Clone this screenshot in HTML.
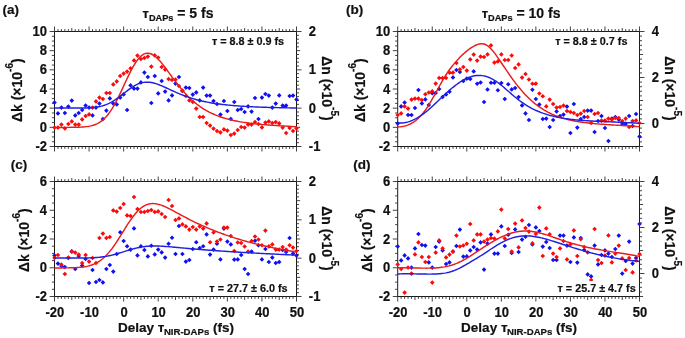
<!DOCTYPE html>
<html><head><meta charset="utf-8"><style>html,body{margin:0;padding:0;background:#fff;}svg{display:block;will-change:transform;}</style></head>
<body>
<svg width="685" height="338" viewBox="0 0 685 338" font-family='"Liberation Sans", sans-serif' font-weight="bold" fill="#111" stroke="#111" stroke-width="0.2">
<rect width="685" height="338" fill="#fff" stroke="none"/>
<path d="M54.5,31.0V147.0M296.5,31.0V147.0M54.0,31.5H297.0M54.0,146.5H297.0" stroke="#1a1a1a" stroke-width="1" fill="none"/>
<path d="M54.50,31.5v-5M54.50,146.5v5M57.96,31.5v-2.4M57.96,146.5v2.4M61.41,31.5v-2.4M61.41,146.5v2.4M64.87,31.5v-2.4M64.87,146.5v2.4M68.33,31.5v-2.4M68.33,146.5v2.4M71.79,31.5v-3.5M71.79,146.5v3.5M75.24,31.5v-2.4M75.24,146.5v2.4M78.70,31.5v-2.4M78.70,146.5v2.4M82.16,31.5v-2.4M82.16,146.5v2.4M85.61,31.5v-2.4M85.61,146.5v2.4M89.07,31.5v-5M89.07,146.5v5M92.53,31.5v-2.4M92.53,146.5v2.4M95.99,31.5v-2.4M95.99,146.5v2.4M99.44,31.5v-2.4M99.44,146.5v2.4M102.90,31.5v-2.4M102.90,146.5v2.4M106.36,31.5v-3.5M106.36,146.5v3.5M109.81,31.5v-2.4M109.81,146.5v2.4M113.27,31.5v-2.4M113.27,146.5v2.4M116.73,31.5v-2.4M116.73,146.5v2.4M120.19,31.5v-2.4M120.19,146.5v2.4M123.64,31.5v-5M123.64,146.5v5M127.10,31.5v-2.4M127.10,146.5v2.4M130.56,31.5v-2.4M130.56,146.5v2.4M134.01,31.5v-2.4M134.01,146.5v2.4M137.47,31.5v-2.4M137.47,146.5v2.4M140.93,31.5v-3.5M140.93,146.5v3.5M144.39,31.5v-2.4M144.39,146.5v2.4M147.84,31.5v-2.4M147.84,146.5v2.4M151.30,31.5v-2.4M151.30,146.5v2.4M154.76,31.5v-2.4M154.76,146.5v2.4M158.21,31.5v-5M158.21,146.5v5M161.67,31.5v-2.4M161.67,146.5v2.4M165.13,31.5v-2.4M165.13,146.5v2.4M168.59,31.5v-2.4M168.59,146.5v2.4M172.04,31.5v-2.4M172.04,146.5v2.4M175.50,31.5v-3.5M175.50,146.5v3.5M178.96,31.5v-2.4M178.96,146.5v2.4M182.41,31.5v-2.4M182.41,146.5v2.4M185.87,31.5v-2.4M185.87,146.5v2.4M189.33,31.5v-2.4M189.33,146.5v2.4M192.79,31.5v-5M192.79,146.5v5M196.24,31.5v-2.4M196.24,146.5v2.4M199.70,31.5v-2.4M199.70,146.5v2.4M203.16,31.5v-2.4M203.16,146.5v2.4M206.61,31.5v-2.4M206.61,146.5v2.4M210.07,31.5v-3.5M210.07,146.5v3.5M213.53,31.5v-2.4M213.53,146.5v2.4M216.99,31.5v-2.4M216.99,146.5v2.4M220.44,31.5v-2.4M220.44,146.5v2.4M223.90,31.5v-2.4M223.90,146.5v2.4M227.36,31.5v-5M227.36,146.5v5M230.81,31.5v-2.4M230.81,146.5v2.4M234.27,31.5v-2.4M234.27,146.5v2.4M237.73,31.5v-2.4M237.73,146.5v2.4M241.19,31.5v-2.4M241.19,146.5v2.4M244.64,31.5v-3.5M244.64,146.5v3.5M248.10,31.5v-2.4M248.10,146.5v2.4M251.56,31.5v-2.4M251.56,146.5v2.4M255.01,31.5v-2.4M255.01,146.5v2.4M258.47,31.5v-2.4M258.47,146.5v2.4M261.93,31.5v-5M261.93,146.5v5M265.39,31.5v-2.4M265.39,146.5v2.4M268.84,31.5v-2.4M268.84,146.5v2.4M272.30,31.5v-2.4M272.30,146.5v2.4M275.76,31.5v-2.4M275.76,146.5v2.4M279.21,31.5v-3.5M279.21,146.5v3.5M282.67,31.5v-2.4M282.67,146.5v2.4M286.13,31.5v-2.4M286.13,146.5v2.4M289.59,31.5v-2.4M289.59,146.5v2.4M293.04,31.5v-2.4M293.04,146.5v2.4M296.50,31.5v-5M296.50,146.5v5M54.5,146.50h-4.9M54.5,141.71h-2.6M54.5,136.92h-2.6M54.5,132.12h-2.6M54.5,127.33h-4.9M54.5,122.54h-2.6M54.5,117.75h-2.6M54.5,112.96h-2.6M54.5,108.17h-4.9M54.5,103.38h-2.6M54.5,98.58h-2.6M54.5,93.79h-2.6M54.5,89.00h-4.9M54.5,84.21h-2.6M54.5,79.42h-2.6M54.5,74.62h-2.6M54.5,69.83h-4.9M54.5,65.04h-2.6M54.5,60.25h-2.6M54.5,55.46h-2.6M54.5,50.67h-4.9M54.5,45.88h-2.6M54.5,41.08h-2.6M54.5,36.29h-2.6M54.5,31.50h-4.9M296.5,146.50h5.0M296.5,142.67h2.5M296.5,138.83h2.5M296.5,135.00h2.5M296.5,131.17h2.5M296.5,127.33h3.6M296.5,123.50h2.5M296.5,119.67h2.5M296.5,115.83h2.5M296.5,112.00h2.5M296.5,108.17h5.0M296.5,104.33h2.5M296.5,100.50h2.5M296.5,96.67h2.5M296.5,92.83h2.5M296.5,89.00h3.6M296.5,85.17h2.5M296.5,81.33h2.5M296.5,77.50h2.5M296.5,73.67h2.5M296.5,69.83h5.0M296.5,66.00h2.5M296.5,62.17h2.5M296.5,58.33h2.5M296.5,54.50h2.5M296.5,50.67h3.6M296.5,46.83h2.5M296.5,43.00h2.5M296.5,39.17h2.5M296.5,35.33h2.5M296.5,31.50h5.0" stroke="#3a3a3a" stroke-width="0.95" fill="none"/>
<path d="M54.50,100.30L56.80,102.60L54.50,104.90L52.20,102.60ZM57.96,111.10L60.26,113.40L57.96,115.70L55.66,113.40ZM61.41,105.30L63.71,107.60L61.41,109.90L59.11,107.60ZM64.87,110.70L67.17,113.00L64.87,115.30L62.57,113.00ZM68.33,104.30L70.63,106.60L68.33,108.90L66.03,106.60ZM71.79,98.30L74.09,100.60L71.79,102.90L69.49,100.60ZM75.24,113.10L77.54,115.40L75.24,117.70L72.94,115.40ZM78.70,110.70L81.00,113.00L78.70,115.30L76.40,113.00ZM82.16,107.70L84.46,110.00L82.16,112.30L79.86,110.00ZM85.61,103.30L87.91,105.60L85.61,107.90L83.31,105.60ZM89.07,105.30L91.37,107.60L89.07,109.90L86.77,107.60ZM92.53,113.10L94.83,115.40L92.53,117.70L90.23,115.40ZM95.99,105.30L98.29,107.60L95.99,109.90L93.69,107.60ZM99.44,101.30L101.74,103.60L99.44,105.90L97.14,103.60ZM102.90,116.70L105.20,119.00L102.90,121.30L100.60,119.00ZM106.36,108.30L108.66,110.60L106.36,112.90L104.06,110.60ZM109.81,96.10L112.11,98.40L109.81,100.70L107.51,98.40ZM113.27,101.30L115.57,103.60L113.27,105.90L110.97,103.60ZM116.73,102.10L119.03,104.40L116.73,106.70L114.43,104.40ZM120.19,95.30L122.49,97.60L120.19,99.90L117.89,97.60ZM123.64,92.10L125.94,94.40L123.64,96.70L121.34,94.40ZM127.10,107.70L129.40,110.00L127.10,112.30L124.80,110.00ZM130.56,83.10L132.86,85.40L130.56,87.70L128.26,85.40ZM134.01,86.30L136.31,88.60L134.01,90.90L131.71,88.60ZM137.47,86.30L139.77,88.60L137.47,90.90L135.17,88.60ZM140.93,80.10L143.23,82.40L140.93,84.70L138.63,82.40ZM144.39,70.30L146.69,72.60L144.39,74.90L142.09,72.60ZM147.84,74.70L150.14,77.00L147.84,79.30L145.54,77.00ZM151.30,100.70L153.60,103.00L151.30,105.30L149.00,103.00ZM154.76,73.70L157.06,76.00L154.76,78.30L152.46,76.00ZM158.21,91.10L160.51,93.40L158.21,95.70L155.91,93.40ZM161.67,78.70L163.97,81.00L161.67,83.30L159.37,81.00ZM165.13,89.30L167.43,91.60L165.13,93.90L162.83,91.60ZM168.59,98.10L170.89,100.40L168.59,102.70L166.29,100.40ZM172.04,93.10L174.34,95.40L172.04,97.70L169.74,95.40ZM175.50,81.30L177.80,83.60L175.50,85.90L173.20,83.60ZM178.96,74.70L181.26,77.00L178.96,79.30L176.66,77.00ZM182.41,88.70L184.71,91.00L182.41,93.30L180.11,91.00ZM185.87,85.30L188.17,87.60L185.87,89.90L183.57,87.60ZM189.33,85.70L191.63,88.00L189.33,90.30L187.03,88.00ZM192.79,92.30L195.09,94.60L192.79,96.90L190.49,94.60ZM196.24,90.10L198.54,92.40L196.24,94.70L193.94,92.40ZM199.70,98.10L202.00,100.40L199.70,102.70L197.40,100.40ZM203.16,85.30L205.46,87.60L203.16,89.90L200.86,87.60ZM206.61,93.30L208.91,95.60L206.61,97.90L204.31,95.60ZM210.07,93.30L212.37,95.60L210.07,97.90L207.77,95.60ZM213.53,98.70L215.83,101.00L213.53,103.30L211.23,101.00ZM216.99,101.70L219.29,104.00L216.99,106.30L214.69,104.00ZM220.44,112.30L222.74,114.60L220.44,116.90L218.14,114.60ZM223.90,98.70L226.20,101.00L223.90,103.30L221.60,101.00ZM227.36,108.70L229.66,111.00L227.36,113.30L225.06,111.00ZM230.81,116.70L233.11,119.00L230.81,121.30L228.51,119.00ZM234.27,99.70L236.57,102.00L234.27,104.30L231.97,102.00ZM237.73,107.70L240.03,110.00L237.73,112.30L235.43,110.00ZM241.19,106.70L243.49,109.00L241.19,111.30L238.89,109.00ZM244.64,109.70L246.94,112.00L244.64,114.30L242.34,112.00ZM248.10,104.10L250.40,106.40L248.10,108.70L245.80,106.40ZM251.56,109.30L253.86,111.60L251.56,113.90L249.26,111.60ZM255.01,95.70L257.31,98.00L255.01,100.30L252.71,98.00ZM258.47,116.70L260.77,119.00L258.47,121.30L256.17,119.00ZM261.93,95.30L264.23,97.60L261.93,99.90L259.63,97.60ZM265.39,91.70L267.69,94.00L265.39,96.30L263.09,94.00ZM268.84,93.30L271.14,95.60L268.84,97.90L266.54,95.60ZM272.30,105.30L274.60,107.60L272.30,109.90L270.00,107.60ZM275.76,101.30L278.06,103.60L275.76,105.90L273.46,103.60ZM279.21,93.10L281.51,95.40L279.21,97.70L276.91,95.40ZM282.67,103.30L284.97,105.60L282.67,107.90L280.37,105.60ZM286.13,103.30L288.43,105.60L286.13,107.90L283.83,105.60ZM289.59,93.70L291.89,96.00L289.59,98.30L287.29,96.00ZM293.04,93.30L295.34,95.60L293.04,97.90L290.74,95.60ZM296.50,97.30L298.80,99.60L296.50,101.90L294.20,99.60Z" fill="#1010f5" stroke="none"/>
<path d="M54.50,125.30L56.80,127.60L54.50,129.90L52.20,127.60ZM57.96,125.30L60.26,127.60L57.96,129.90L55.66,127.60ZM61.41,122.30L63.71,124.60L61.41,126.90L59.11,124.60ZM64.87,126.10L67.17,128.40L64.87,130.70L62.57,128.40ZM68.33,121.70L70.63,124.00L68.33,126.30L66.03,124.00ZM71.79,119.10L74.09,121.40L71.79,123.70L69.49,121.40ZM75.24,122.30L77.54,124.60L75.24,126.90L72.94,124.60ZM78.70,122.30L81.00,124.60L78.70,126.90L76.40,124.60ZM82.16,117.10L84.46,119.40L82.16,121.70L79.86,119.40ZM85.61,113.70L87.91,116.00L85.61,118.30L83.31,116.00ZM89.07,112.10L91.37,114.40L89.07,116.70L86.77,114.40ZM92.53,105.30L94.83,107.60L92.53,109.90L90.23,107.60ZM95.99,99.10L98.29,101.40L95.99,103.70L93.69,101.40ZM99.44,95.30L101.74,97.60L99.44,99.90L97.14,97.60ZM102.90,96.70L105.20,99.00L102.90,101.30L100.60,99.00ZM106.36,90.70L108.66,93.00L106.36,95.30L104.06,93.00ZM109.81,90.70L112.11,93.00L109.81,95.30L107.51,93.00ZM113.27,82.10L115.57,84.40L113.27,86.70L110.97,84.40ZM116.73,79.10L119.03,81.40L116.73,83.70L114.43,81.40ZM120.19,73.70L122.49,76.00L120.19,78.30L117.89,76.00ZM123.64,71.30L125.94,73.60L123.64,75.90L121.34,73.60ZM127.10,69.30L129.40,71.60L127.10,73.90L124.80,71.60ZM130.56,66.10L132.86,68.40L130.56,70.70L128.26,68.40ZM134.01,58.10L136.31,60.40L134.01,62.70L131.71,60.40ZM137.47,53.30L139.77,55.60L137.47,57.90L135.17,55.60ZM140.93,56.70L143.23,59.00L140.93,61.30L138.63,59.00ZM144.39,55.70L146.69,58.00L144.39,60.30L142.09,58.00ZM147.84,54.30L150.14,56.60L147.84,58.90L145.54,56.60ZM151.30,64.30L153.60,66.60L151.30,68.90L149.00,66.60ZM154.76,53.10L157.06,55.40L154.76,57.70L152.46,55.40ZM158.21,55.30L160.51,57.60L158.21,59.90L155.91,57.60ZM161.67,64.70L163.97,67.00L161.67,69.30L159.37,67.00ZM165.13,67.30L167.43,69.60L165.13,71.90L162.83,69.60ZM168.59,76.70L170.89,79.00L168.59,81.30L166.29,79.00ZM172.04,77.70L174.34,80.00L172.04,82.30L169.74,80.00ZM175.50,77.30L177.80,79.60L175.50,81.90L173.20,79.60ZM178.96,83.70L181.26,86.00L178.96,88.30L176.66,86.00ZM182.41,88.30L184.71,90.60L182.41,92.90L180.11,90.60ZM185.87,93.70L188.17,96.00L185.87,98.30L183.57,96.00ZM189.33,98.10L191.63,100.40L189.33,102.70L187.03,100.40ZM192.79,99.70L195.09,102.00L192.79,104.30L190.49,102.00ZM196.24,106.30L198.54,108.60L196.24,110.90L193.94,108.60ZM199.70,114.70L202.00,117.00L199.70,119.30L197.40,117.00ZM203.16,114.70L205.46,117.00L203.16,119.30L200.86,117.00ZM206.61,120.70L208.91,123.00L206.61,125.30L204.31,123.00ZM210.07,123.30L212.37,125.60L210.07,127.90L207.77,125.60ZM213.53,126.30L215.83,128.60L213.53,130.90L211.23,128.60ZM216.99,128.70L219.29,131.00L216.99,133.30L214.69,131.00ZM220.44,130.10L222.74,132.40L220.44,134.70L218.14,132.40ZM223.90,127.10L226.20,129.40L223.90,131.70L221.60,129.40ZM227.36,128.30L229.66,130.60L227.36,132.90L225.06,130.60ZM230.81,132.70L233.11,135.00L230.81,137.30L228.51,135.00ZM234.27,131.30L236.57,133.60L234.27,135.90L231.97,133.60ZM237.73,127.70L240.03,130.00L237.73,132.30L235.43,130.00ZM241.19,124.70L243.49,127.00L241.19,129.30L238.89,127.00ZM244.64,125.30L246.94,127.60L244.64,129.90L242.34,127.60ZM248.10,122.30L250.40,124.60L248.10,126.90L245.80,124.60ZM251.56,122.30L253.86,124.60L251.56,126.90L249.26,124.60ZM255.01,119.70L257.31,122.00L255.01,124.30L252.71,122.00ZM258.47,121.70L260.77,124.00L258.47,126.30L256.17,124.00ZM261.93,125.10L264.23,127.40L261.93,129.70L259.63,127.40ZM265.39,120.30L267.69,122.60L265.39,124.90L263.09,122.60ZM268.84,119.10L271.14,121.40L268.84,123.70L266.54,121.40ZM272.30,120.70L274.60,123.00L272.30,125.30L270.00,123.00ZM275.76,119.70L278.06,122.00L275.76,124.30L273.46,122.00ZM279.21,121.10L281.51,123.40L279.21,125.70L276.91,123.40ZM282.67,125.30L284.97,127.60L282.67,129.90L280.37,127.60ZM286.13,130.70L288.43,133.00L286.13,135.30L283.83,133.00ZM289.59,125.70L291.89,128.00L289.59,130.30L287.29,128.00ZM293.04,128.70L295.34,131.00L293.04,133.30L290.74,131.00ZM296.50,126.10L298.80,128.40L296.50,130.70L294.20,128.40Z" fill="#ff0a0a" stroke="none"/>
<polyline points="54.50,127.56 56.01,127.54 57.52,127.51 59.04,127.49 60.55,127.47 62.06,127.45 63.58,127.43 65.09,127.41 66.60,127.39 68.11,127.37 69.62,127.35 71.14,127.33 72.65,127.31 74.16,127.28 75.67,127.25 77.19,127.21 78.70,127.16 80.21,127.10 81.72,127.01 83.24,126.91 84.75,126.78 86.26,126.61 87.78,126.41 89.29,126.16 90.80,125.84 92.31,125.47 93.82,125.01 95.34,124.46 96.85,123.81 98.36,123.04 99.88,122.14 101.39,121.09 102.90,119.89 104.41,118.51 105.92,116.96 107.44,115.22 108.95,113.28 110.46,111.16 111.97,108.85 113.49,106.35 115.00,103.68 116.51,100.86 118.03,97.89 119.54,94.81 121.05,91.63 122.56,88.39 124.08,85.11 125.59,81.82 127.10,78.58 128.61,75.40 130.12,72.32 131.64,69.39 133.15,66.63 134.66,64.07 136.18,61.75 137.69,59.67 139.20,57.86 140.71,56.34 142.22,55.11 143.74,54.19 145.25,53.57 146.76,53.24 148.27,53.21 149.79,53.46 151.30,53.98 152.81,54.75 154.32,55.74 155.84,56.95 157.35,58.34 158.86,59.89 160.38,61.58 161.89,63.38 163.40,65.28 164.91,67.26 166.43,69.28 167.94,71.34 169.45,73.42 170.96,75.50 172.47,77.57 173.99,79.61 175.50,81.63 177.01,83.60 178.52,85.53 180.04,87.41 181.55,89.23 183.06,90.99 184.57,92.69 186.09,94.32 187.60,95.90 189.11,97.40 190.62,98.85 192.14,100.24 193.65,101.56 195.16,102.82 196.67,104.03 198.19,105.18 199.70,106.28 201.21,107.32 202.72,108.32 204.24,109.26 205.75,110.16 207.26,111.01 208.78,111.83 210.29,112.60 211.80,113.33 213.31,114.02 214.82,114.68 216.34,115.30 217.85,115.90 219.36,116.46 220.88,116.99 222.39,117.50 223.90,117.98 225.41,118.43 226.92,118.86 228.44,119.27 229.95,119.66 231.46,120.02 232.97,120.37 234.49,120.70 236.00,121.01 237.51,121.31 239.03,121.59 240.54,121.86 242.05,122.11 243.56,122.35 245.07,122.58 246.59,122.80 248.10,123.00 249.61,123.20 251.12,123.38 252.64,123.56 254.15,123.73 255.66,123.89 257.17,124.05 258.69,124.19 260.20,124.33 261.71,124.47 263.23,124.60 264.74,124.72 266.25,124.84 267.76,124.96 269.27,125.07 270.79,125.18 272.30,125.29 273.81,125.39 275.32,125.49 276.84,125.59 278.35,125.69 279.86,125.78 281.38,125.87 282.89,125.97 284.40,126.06 285.91,126.15 287.42,126.24 288.94,126.33 290.45,126.42 291.96,126.51 293.48,126.60 294.99,126.69 296.50,126.79" fill="none" stroke="#e81c1c" stroke-width="1.45" stroke-linejoin="round"/>
<polyline points="54.50,108.02 56.01,108.03 57.52,108.04 59.04,108.04 60.55,108.05 62.06,108.06 63.58,108.07 65.09,108.07 66.60,108.08 68.11,108.08 69.62,108.09 71.14,108.09 72.65,108.09 74.16,108.09 75.67,108.09 77.19,108.09 78.70,108.08 80.21,108.07 81.72,108.05 83.24,108.02 84.75,107.98 86.26,107.94 87.78,107.88 89.29,107.80 90.80,107.70 92.31,107.58 93.82,107.43 95.34,107.25 96.85,107.03 98.36,106.77 99.88,106.46 101.39,106.11 102.90,105.69 104.41,105.21 105.92,104.67 107.44,104.06 108.95,103.38 110.46,102.62 111.97,101.80 113.49,100.90 115.00,99.94 116.51,98.92 118.03,97.85 119.54,96.73 121.05,95.58 122.56,94.40 124.08,93.21 125.59,92.02 127.10,90.84 128.61,89.70 130.12,88.59 131.64,87.55 133.15,86.57 134.66,85.67 136.18,84.86 137.69,84.15 139.20,83.54 140.71,83.04 142.22,82.64 143.74,82.36 145.25,82.19 146.76,82.13 148.27,82.16 149.79,82.29 151.30,82.52 152.81,82.82 154.32,83.21 155.84,83.65 157.35,84.16 158.86,84.72 160.38,85.31 161.89,85.94 163.40,86.60 164.91,87.28 166.43,87.97 167.94,88.67 169.45,89.37 170.96,90.08 172.47,90.77 173.99,91.46 175.50,92.13 177.01,92.79 178.52,93.44 180.04,94.07 181.55,94.68 183.06,95.27 184.57,95.84 186.09,96.39 187.60,96.92 189.11,97.43 190.62,97.92 192.14,98.39 193.65,98.84 195.16,99.28 196.67,99.69 198.19,100.09 199.70,100.47 201.21,100.83 202.72,101.17 204.24,101.50 205.75,101.82 207.26,102.12 208.78,102.40 210.29,102.68 211.80,102.94 213.31,103.19 214.82,103.42 216.34,103.65 217.85,103.86 219.36,104.07 220.88,104.26 222.39,104.45 223.90,104.63 225.41,104.80 226.92,104.96 228.44,105.11 229.95,105.26 231.46,105.40 232.97,105.53 234.49,105.66 236.00,105.78 237.51,105.89 239.03,106.00 240.54,106.11 242.05,106.21 243.56,106.30 245.07,106.39 246.59,106.48 248.10,106.56 249.61,106.64 251.12,106.72 252.64,106.79 254.15,106.86 255.66,106.93 257.17,106.99 258.69,107.05 260.20,107.11 261.71,107.16 263.23,107.22 264.74,107.27 266.25,107.32 267.76,107.37 269.27,107.41 270.79,107.46 272.30,107.50 273.81,107.54 275.32,107.58 276.84,107.62 278.35,107.65 279.86,107.69 281.38,107.72 282.89,107.76 284.40,107.79 285.91,107.82 287.42,107.85 288.94,107.88 290.45,107.91 291.96,107.94 293.48,107.97 294.99,108.00 296.50,108.02" fill="none" stroke="#2020e0" stroke-width="1.45" stroke-linejoin="round"/>
<text transform="translate(47.0,151.0) scale(1,1.1)" font-size="13" text-anchor="end" >-2</text>
<text transform="translate(47.0,131.83333333333334) scale(1,1.1)" font-size="13" text-anchor="end" >0</text>
<text transform="translate(47.0,112.66666666666667) scale(1,1.1)" font-size="13" text-anchor="end" >2</text>
<text transform="translate(47.0,93.5) scale(1,1.1)" font-size="13" text-anchor="end" >4</text>
<text transform="translate(47.0,74.33333333333334) scale(1,1.1)" font-size="13" text-anchor="end" >6</text>
<text transform="translate(47.0,55.16666666666666) scale(1,1.1)" font-size="13" text-anchor="end" >8</text>
<text transform="translate(47.0,36.0) scale(1,1.1)" font-size="13" text-anchor="end" >10</text>
<text transform="translate(308.8,151.0) scale(1,1.1)" font-size="13" text-anchor="start" >-1</text>
<text transform="translate(308.8,112.66666666666667) scale(1,1.1)" font-size="13" text-anchor="start" >0</text>
<text transform="translate(308.8,74.33333333333334) scale(1,1.1)" font-size="13" text-anchor="start" >1</text>
<text transform="translate(308.8,36.0) scale(1,1.1)" font-size="13" text-anchor="start" >2</text>
<text x="2.4" y="14.0" font-size="13.5" text-anchor="start" >(a)</text>
<text x="178.0" y="17.7" font-size="13" text-anchor="middle">&#1090;<tspan font-size="9.2" dy="3.2">DAPs</tspan><tspan dy="-3.2" font-size="14"> = 5 fs</tspan></text>
<text transform="translate(21.9,90.2) rotate(-90)" font-size="14" text-anchor="middle">&#916;k (&#215;10<tspan font-size="10" dy="-9.2">-6</tspan><tspan dy="9.2">)</tspan></text>
<text transform="translate(322.0,88.4) rotate(90)" font-size="14" text-anchor="middle">&#916;n (&#215;10<tspan font-size="10" dy="-9.2">-5</tspan><tspan dy="9.2">)</tspan></text>
<text x="284.1" y="44.5" font-size="10.8" text-anchor="end">&#1090; = 8.8 &#177; 0.9 fs</text>
<path d="M397.7,31.0V147.0M639.5,31.0V147.0M397.2,31.5H640.0M397.2,146.5H640.0" stroke="#1a1a1a" stroke-width="1" fill="none"/>
<path d="M397.70,31.5v-5M397.70,146.5v5M401.15,31.5v-2.4M401.15,146.5v2.4M404.61,31.5v-2.4M404.61,146.5v2.4M408.06,31.5v-2.4M408.06,146.5v2.4M411.52,31.5v-2.4M411.52,146.5v2.4M414.97,31.5v-3.5M414.97,146.5v3.5M418.43,31.5v-2.4M418.43,146.5v2.4M421.88,31.5v-2.4M421.88,146.5v2.4M425.33,31.5v-2.4M425.33,146.5v2.4M428.79,31.5v-2.4M428.79,146.5v2.4M432.24,31.5v-5M432.24,146.5v5M435.70,31.5v-2.4M435.70,146.5v2.4M439.15,31.5v-2.4M439.15,146.5v2.4M442.61,31.5v-2.4M442.61,146.5v2.4M446.06,31.5v-2.4M446.06,146.5v2.4M449.51,31.5v-3.5M449.51,146.5v3.5M452.97,31.5v-2.4M452.97,146.5v2.4M456.42,31.5v-2.4M456.42,146.5v2.4M459.88,31.5v-2.4M459.88,146.5v2.4M463.33,31.5v-2.4M463.33,146.5v2.4M466.79,31.5v-5M466.79,146.5v5M470.24,31.5v-2.4M470.24,146.5v2.4M473.69,31.5v-2.4M473.69,146.5v2.4M477.15,31.5v-2.4M477.15,146.5v2.4M480.60,31.5v-2.4M480.60,146.5v2.4M484.06,31.5v-3.5M484.06,146.5v3.5M487.51,31.5v-2.4M487.51,146.5v2.4M490.97,31.5v-2.4M490.97,146.5v2.4M494.42,31.5v-2.4M494.42,146.5v2.4M497.87,31.5v-2.4M497.87,146.5v2.4M501.33,31.5v-5M501.33,146.5v5M504.78,31.5v-2.4M504.78,146.5v2.4M508.24,31.5v-2.4M508.24,146.5v2.4M511.69,31.5v-2.4M511.69,146.5v2.4M515.15,31.5v-2.4M515.15,146.5v2.4M518.60,31.5v-3.5M518.60,146.5v3.5M522.05,31.5v-2.4M522.05,146.5v2.4M525.51,31.5v-2.4M525.51,146.5v2.4M528.96,31.5v-2.4M528.96,146.5v2.4M532.42,31.5v-2.4M532.42,146.5v2.4M535.87,31.5v-5M535.87,146.5v5M539.33,31.5v-2.4M539.33,146.5v2.4M542.78,31.5v-2.4M542.78,146.5v2.4M546.23,31.5v-2.4M546.23,146.5v2.4M549.69,31.5v-2.4M549.69,146.5v2.4M553.14,31.5v-3.5M553.14,146.5v3.5M556.60,31.5v-2.4M556.60,146.5v2.4M560.05,31.5v-2.4M560.05,146.5v2.4M563.51,31.5v-2.4M563.51,146.5v2.4M566.96,31.5v-2.4M566.96,146.5v2.4M570.41,31.5v-5M570.41,146.5v5M573.87,31.5v-2.4M573.87,146.5v2.4M577.32,31.5v-2.4M577.32,146.5v2.4M580.78,31.5v-2.4M580.78,146.5v2.4M584.23,31.5v-2.4M584.23,146.5v2.4M587.69,31.5v-3.5M587.69,146.5v3.5M591.14,31.5v-2.4M591.14,146.5v2.4M594.59,31.5v-2.4M594.59,146.5v2.4M598.05,31.5v-2.4M598.05,146.5v2.4M601.50,31.5v-2.4M601.50,146.5v2.4M604.96,31.5v-5M604.96,146.5v5M608.41,31.5v-2.4M608.41,146.5v2.4M611.87,31.5v-2.4M611.87,146.5v2.4M615.32,31.5v-2.4M615.32,146.5v2.4M618.77,31.5v-2.4M618.77,146.5v2.4M622.23,31.5v-3.5M622.23,146.5v3.5M625.68,31.5v-2.4M625.68,146.5v2.4M629.14,31.5v-2.4M629.14,146.5v2.4M632.59,31.5v-2.4M632.59,146.5v2.4M636.05,31.5v-2.4M636.05,146.5v2.4M639.50,31.5v-5M639.50,146.5v5M397.7,146.50h-4.9M397.7,141.71h-2.6M397.7,136.92h-2.6M397.7,132.12h-2.6M397.7,127.33h-4.9M397.7,122.54h-2.6M397.7,117.75h-2.6M397.7,112.96h-2.6M397.7,108.17h-4.9M397.7,103.38h-2.6M397.7,98.58h-2.6M397.7,93.79h-2.6M397.7,89.00h-4.9M397.7,84.21h-2.6M397.7,79.42h-2.6M397.7,74.62h-2.6M397.7,69.83h-4.9M397.7,65.04h-2.6M397.7,60.25h-2.6M397.7,55.46h-2.6M397.7,50.67h-4.9M397.7,45.88h-2.6M397.7,41.08h-2.6M397.7,36.29h-2.6M397.7,31.50h-4.9M639.5,146.50h3.6M639.5,141.90h2.5M639.5,137.30h2.5M639.5,132.70h2.5M639.5,128.10h2.5M639.5,123.50h5.0M639.5,118.90h2.5M639.5,114.30h2.5M639.5,109.70h2.5M639.5,105.10h2.5M639.5,100.50h3.6M639.5,95.90h2.5M639.5,91.30h2.5M639.5,86.70h2.5M639.5,82.10h2.5M639.5,77.50h5.0M639.5,72.90h2.5M639.5,68.30h2.5M639.5,63.70h2.5M639.5,59.10h2.5M639.5,54.50h3.6M639.5,49.90h2.5M639.5,45.30h2.5M639.5,40.70h2.5M639.5,36.10h2.5M639.5,31.50h5.0" stroke="#3a3a3a" stroke-width="0.95" fill="none"/>
<path d="M397.70,121.10L400.00,123.40L397.70,125.70L395.40,123.40ZM401.15,104.10L403.45,106.40L401.15,108.70L398.85,106.40ZM404.61,100.30L406.91,102.60L404.61,104.90L402.31,102.60ZM408.06,112.70L410.36,115.00L408.06,117.30L405.76,115.00ZM411.52,112.70L413.82,115.00L411.52,117.30L409.22,115.00ZM414.97,105.70L417.27,108.00L414.97,110.30L412.67,108.00ZM418.43,87.70L420.73,90.00L418.43,92.30L416.13,90.00ZM421.88,101.10L424.18,103.40L421.88,105.70L419.58,103.40ZM425.33,97.10L427.63,99.40L425.33,101.70L423.03,99.40ZM428.79,102.70L431.09,105.00L428.79,107.30L426.49,105.00ZM432.24,91.00L434.54,93.30L432.24,95.60L429.94,93.30ZM435.70,90.70L438.00,93.00L435.70,95.30L433.40,93.00ZM439.15,86.70L441.45,89.00L439.15,91.30L436.85,89.00ZM442.61,94.70L444.91,97.00L442.61,99.30L440.31,97.00ZM446.06,92.20L448.36,94.50L446.06,96.80L443.76,94.50ZM449.51,89.50L451.81,91.80L449.51,94.10L447.21,91.80ZM452.97,75.10L455.27,77.40L452.97,79.70L450.67,77.40ZM456.42,67.70L458.72,70.00L456.42,72.30L454.12,70.00ZM459.88,69.70L462.18,72.00L459.88,74.30L457.58,72.00ZM463.33,78.70L465.63,81.00L463.33,83.30L461.03,81.00ZM466.79,76.30L469.09,78.60L466.79,80.90L464.49,78.60ZM470.24,76.70L472.54,79.00L470.24,81.30L467.94,79.00ZM473.69,69.10L475.99,71.40L473.69,73.70L471.39,71.40ZM477.15,81.50L479.45,83.80L477.15,86.10L474.85,83.80ZM480.60,80.20L482.90,82.50L480.60,84.80L478.30,82.50ZM484.06,99.70L486.36,102.00L484.06,104.30L481.76,102.00ZM487.51,87.20L489.81,89.50L487.51,91.80L485.21,89.50ZM490.97,80.50L493.27,82.80L490.97,85.10L488.67,82.80ZM494.42,80.50L496.72,82.80L494.42,85.10L492.12,82.80ZM497.87,88.00L500.17,90.30L497.87,92.60L495.57,90.30ZM501.33,80.70L503.63,83.00L501.33,85.30L499.03,83.00ZM504.78,96.70L507.08,99.00L504.78,101.30L502.48,99.00ZM508.24,82.00L510.54,84.30L508.24,86.60L505.94,84.30ZM511.69,87.10L513.99,89.40L511.69,91.70L509.39,89.40ZM515.15,85.70L517.45,88.00L515.15,90.30L512.85,88.00ZM518.60,94.70L520.90,97.00L518.60,99.30L516.30,97.00ZM522.05,103.10L524.35,105.40L522.05,107.70L519.75,105.40ZM525.51,111.10L527.81,113.40L525.51,115.70L523.21,113.40ZM528.96,117.70L531.26,120.00L528.96,122.30L526.66,120.00ZM532.42,87.50L534.72,89.80L532.42,92.10L530.12,89.80ZM535.87,96.70L538.17,99.00L535.87,101.30L533.57,99.00ZM539.33,102.30L541.63,104.60L539.33,106.90L537.03,104.60ZM542.78,116.70L545.08,119.00L542.78,121.30L540.48,119.00ZM546.23,116.30L548.53,118.60L546.23,120.90L543.93,118.60ZM549.69,124.70L551.99,127.00L549.69,129.30L547.39,127.00ZM553.14,117.70L555.44,120.00L553.14,122.30L550.84,120.00ZM556.60,109.10L558.90,111.40L556.60,113.70L554.30,111.40ZM560.05,113.70L562.35,116.00L560.05,118.30L557.75,116.00ZM563.51,112.30L565.81,114.60L563.51,116.90L561.21,114.60ZM566.96,104.30L569.26,106.60L566.96,108.90L564.66,106.60ZM570.41,130.70L572.71,133.00L570.41,135.30L568.11,133.00ZM573.87,101.70L576.17,104.00L573.87,106.30L571.57,104.00ZM577.32,125.30L579.62,127.60L577.32,129.90L575.02,127.60ZM580.78,116.70L583.08,119.00L580.78,121.30L578.48,119.00ZM584.23,114.70L586.53,117.00L584.23,119.30L581.93,117.00ZM587.69,108.30L589.99,110.60L587.69,112.90L585.39,110.60ZM591.14,108.30L593.44,110.60L591.14,112.90L588.84,110.60ZM594.59,129.70L596.89,132.00L594.59,134.30L592.29,132.00ZM598.05,118.70L600.35,121.00L598.05,123.30L595.75,121.00ZM601.50,113.70L603.80,116.00L601.50,118.30L599.20,116.00ZM604.96,125.70L607.26,128.00L604.96,130.30L602.66,128.00ZM608.41,138.70L610.71,141.00L608.41,143.30L606.11,141.00ZM611.87,116.30L614.17,118.60L611.87,120.90L609.57,118.60ZM615.32,114.70L617.62,117.00L615.32,119.30L613.02,117.00ZM618.77,117.30L621.07,119.60L618.77,121.90L616.47,119.60ZM622.23,121.70L624.53,124.00L622.23,126.30L619.93,124.00ZM625.68,121.70L627.98,124.00L625.68,126.30L623.38,124.00ZM629.14,113.70L631.44,116.00L629.14,118.30L626.84,116.00ZM632.59,123.70L634.89,126.00L632.59,128.30L630.29,126.00ZM636.05,111.70L638.35,114.00L636.05,116.30L633.75,114.00ZM639.50,134.30L641.80,136.60L639.50,138.90L637.20,136.60Z" fill="#1010f5" stroke="none"/>
<path d="M397.70,112.70L400.00,115.00L397.70,117.30L395.40,115.00ZM401.15,111.10L403.45,113.40L401.15,115.70L398.85,113.40ZM404.61,104.10L406.91,106.40L404.61,108.70L402.31,106.40ZM408.06,106.30L410.36,108.60L408.06,110.90L405.76,108.60ZM411.52,97.30L413.82,99.60L411.52,101.90L409.22,99.60ZM414.97,96.30L417.27,98.60L414.97,100.90L412.67,98.60ZM418.43,96.30L420.73,98.60L418.43,100.90L416.13,98.60ZM421.88,97.70L424.18,100.00L421.88,102.30L419.58,100.00ZM425.33,91.90L427.63,94.20L425.33,96.50L423.03,94.20ZM428.79,90.20L431.09,92.50L428.79,94.80L426.49,92.50ZM432.24,89.00L434.54,91.30L432.24,93.60L429.94,91.30ZM435.70,81.30L438.00,83.60L435.70,85.90L433.40,83.60ZM439.15,75.70L441.45,78.00L439.15,80.30L436.85,78.00ZM442.61,75.70L444.91,78.00L442.61,80.30L440.31,78.00ZM446.06,75.70L448.36,78.00L446.06,80.30L443.76,78.00ZM449.51,70.30L451.81,72.60L449.51,74.90L447.21,72.60ZM452.97,70.30L455.27,72.60L452.97,74.90L450.67,72.60ZM456.42,60.70L458.72,63.00L456.42,65.30L454.12,63.00ZM459.88,67.10L462.18,69.40L459.88,71.70L457.58,69.40ZM463.33,64.70L465.63,67.00L463.33,69.30L461.03,67.00ZM466.79,68.30L469.09,70.60L466.79,72.90L464.49,70.60ZM470.24,57.10L472.54,59.40L470.24,61.70L467.94,59.40ZM473.69,52.30L475.99,54.60L473.69,56.90L471.39,54.60ZM477.15,58.30L479.45,60.60L477.15,62.90L474.85,60.60ZM480.60,54.30L482.90,56.60L480.60,58.90L478.30,56.60ZM484.06,54.70L486.36,57.00L484.06,59.30L481.76,57.00ZM487.51,52.10L489.81,54.40L487.51,56.70L485.21,54.40ZM490.97,43.10L493.27,45.40L490.97,47.70L488.67,45.40ZM494.42,60.30L496.72,62.60L494.42,64.90L492.12,62.60ZM497.87,59.10L500.17,61.40L497.87,63.70L495.57,61.40ZM501.33,52.10L503.63,54.40L501.33,56.70L499.03,54.40ZM504.78,57.70L507.08,60.00L504.78,62.30L502.48,60.00ZM508.24,57.70L510.54,60.00L508.24,62.30L505.94,60.00ZM511.69,53.20L513.99,55.50L511.69,57.80L509.39,55.50ZM515.15,65.70L517.45,68.00L515.15,70.30L512.85,68.00ZM518.60,62.10L520.90,64.40L518.60,66.70L516.30,64.40ZM522.05,75.30L524.35,77.60L522.05,79.90L519.75,77.60ZM525.51,71.70L527.81,74.00L525.51,76.30L523.21,74.00ZM528.96,77.20L531.26,79.50L528.96,81.80L526.66,79.50ZM532.42,81.50L534.72,83.80L532.42,86.10L530.12,83.80ZM535.87,81.30L538.17,83.60L535.87,85.90L533.57,83.60ZM539.33,91.20L541.63,93.50L539.33,95.80L537.03,93.50ZM542.78,93.90L545.08,96.20L542.78,98.50L540.48,96.20ZM546.23,104.10L548.53,106.40L546.23,108.70L543.93,106.40ZM549.69,97.30L551.99,99.60L549.69,101.90L547.39,99.60ZM553.14,101.70L555.44,104.00L553.14,106.30L550.84,104.00ZM556.60,105.30L558.90,107.60L556.60,109.90L554.30,107.60ZM560.05,104.70L562.35,107.00L560.05,109.30L557.75,107.00ZM563.51,103.30L565.81,105.60L563.51,107.90L561.21,105.60ZM566.96,108.70L569.26,111.00L566.96,113.30L564.66,111.00ZM570.41,109.70L572.71,112.00L570.41,114.30L568.11,112.00ZM573.87,110.70L576.17,113.00L573.87,115.30L571.57,113.00ZM577.32,112.70L579.62,115.00L577.32,117.30L575.02,115.00ZM580.78,111.30L583.08,113.60L580.78,115.90L578.48,113.60ZM584.23,108.70L586.53,111.00L584.23,113.30L581.93,111.00ZM587.69,114.70L589.99,117.00L587.69,119.30L585.39,117.00ZM591.14,120.70L593.44,123.00L591.14,125.30L588.84,123.00ZM594.59,111.70L596.89,114.00L594.59,116.30L592.29,114.00ZM598.05,110.70L600.35,113.00L598.05,115.30L595.75,113.00ZM601.50,118.30L603.80,120.60L601.50,122.90L599.20,120.60ZM604.96,118.30L607.26,120.60L604.96,122.90L602.66,120.60ZM608.41,116.30L610.71,118.60L608.41,120.90L606.11,118.60ZM611.87,117.30L614.17,119.60L611.87,121.90L609.57,119.60ZM615.32,115.70L617.62,118.00L615.32,120.30L613.02,118.00ZM618.77,115.70L621.07,118.00L618.77,120.30L616.47,118.00ZM622.23,118.70L624.53,121.00L622.23,123.30L619.93,121.00ZM625.68,116.30L627.98,118.60L625.68,120.90L623.38,118.60ZM629.14,124.70L631.44,127.00L629.14,129.30L626.84,127.00ZM632.59,118.70L634.89,121.00L632.59,123.30L630.29,121.00ZM636.05,118.10L638.35,120.40L636.05,122.70L633.75,120.40ZM639.50,120.70L641.80,123.00L639.50,125.30L637.20,123.00Z" fill="#ff0a0a" stroke="none"/>
<polyline points="397.70,126.95 399.21,126.88 400.72,126.74 402.23,126.54 403.75,126.26 405.26,125.89 406.77,125.44 408.28,124.89 409.79,124.23 411.30,123.47 412.81,122.59 414.32,121.59 415.83,120.46 417.35,119.20 418.86,117.80 420.37,116.25 421.88,114.56 423.39,112.72 424.90,110.73 426.41,108.58 427.93,106.29 429.44,103.87 430.95,101.34 432.46,98.72 433.97,96.04 435.48,93.30 436.99,90.53 438.50,87.76 440.01,85.01 441.53,82.31 443.04,79.68 444.55,77.14 446.06,74.74 447.57,72.45 449.08,70.29 450.59,68.22 452.11,66.26 453.62,64.39 455.13,62.60 456.64,60.88 458.15,59.22 459.66,57.62 461.17,56.07 462.68,54.60 464.19,53.20 465.71,51.87 467.22,50.63 468.73,49.48 470.24,48.41 471.75,47.42 473.26,46.52 474.77,45.70 476.28,45.00 477.80,44.42 479.31,44.01 480.82,43.79 482.33,43.78 483.84,44.01 485.35,44.50 486.86,45.28 488.38,46.34 489.89,47.67 491.40,49.22 492.91,50.98 494.42,52.89 495.93,54.94 497.44,57.07 498.95,59.27 500.46,61.49 501.98,63.73 503.49,65.97 505.00,68.21 506.51,70.44 508.02,72.64 509.53,74.82 511.04,76.96 512.55,79.06 514.07,81.12 515.58,83.13 517.09,85.09 518.60,86.99 520.11,88.83 521.62,90.61 523.13,92.33 524.64,93.99 526.16,95.58 527.67,97.11 529.18,98.58 530.69,99.99 532.20,101.33 533.71,102.62 535.22,103.85 536.74,105.03 538.25,106.15 539.76,107.21 541.27,108.23 542.78,109.20 544.29,110.12 545.80,110.99 547.31,111.82 548.83,112.60 550.34,113.35 551.85,114.06 553.36,114.72 554.87,115.36 556.38,115.95 557.89,116.52 559.40,117.05 560.91,117.56 562.43,118.03 563.94,118.48 565.45,118.90 566.96,119.30 568.47,119.68 569.98,120.04 571.49,120.37 573.00,120.68 574.52,120.98 576.03,121.26 577.54,121.53 579.05,121.77 580.56,122.01 582.07,122.23 583.58,122.44 585.10,122.63 586.61,122.82 588.12,122.99 589.63,123.16 591.14,123.32 592.65,123.47 594.16,123.61 595.67,123.74 597.18,123.87 598.70,123.99 600.21,124.11 601.72,124.22 603.23,124.33 604.74,124.44 606.25,124.54 607.76,124.64 609.27,124.74 610.79,124.83 612.30,124.93 613.81,125.02 615.32,125.11 616.83,125.20 618.34,125.30 619.85,125.39 621.37,125.48 622.88,125.58 624.39,125.67 625.90,125.77 627.41,125.87 628.92,125.97 630.43,126.07 631.94,126.18 633.45,126.29 634.97,126.41 636.48,126.52 637.99,126.65 639.50,126.77" fill="none" stroke="#e81c1c" stroke-width="1.45" stroke-linejoin="round"/>
<polyline points="397.70,122.96 399.21,123.05 400.72,123.05 402.23,122.97 403.75,122.81 405.26,122.56 406.77,122.24 408.28,121.84 409.79,121.35 411.30,120.80 412.81,120.17 414.32,119.46 415.83,118.69 417.35,117.84 418.86,116.93 420.37,115.96 421.88,114.92 423.39,113.83 424.90,112.67 426.41,111.47 427.93,110.22 429.44,108.92 430.95,107.58 432.46,106.20 433.97,104.79 435.48,103.36 436.99,101.91 438.50,100.45 440.01,98.99 441.53,97.53 443.04,96.09 444.55,94.67 446.06,93.28 447.57,91.92 449.08,90.59 450.59,89.30 452.11,88.04 453.62,86.82 455.13,85.64 456.64,84.51 458.15,83.43 459.66,82.39 461.17,81.41 462.68,80.48 464.19,79.62 465.71,78.83 467.22,78.11 468.73,77.47 470.24,76.91 471.75,76.44 473.26,76.05 474.77,75.75 476.28,75.54 477.80,75.42 479.31,75.39 480.82,75.46 482.33,75.62 483.84,75.88 485.35,76.23 486.86,76.68 488.38,77.22 489.89,77.85 491.40,78.56 492.91,79.37 494.42,80.26 495.93,81.22 497.44,82.27 498.95,83.39 500.46,84.57 501.98,85.79 503.49,87.06 505.00,88.36 506.51,89.68 508.02,91.00 509.53,92.33 511.04,93.65 512.55,94.96 514.07,96.24 515.58,97.49 517.09,98.70 518.60,99.87 520.11,101.00 521.62,102.10 523.13,103.15 524.64,104.16 526.16,105.12 527.67,106.05 529.18,106.93 530.69,107.77 532.20,108.58 533.71,109.34 535.22,110.06 536.74,110.75 538.25,111.40 539.76,112.02 541.27,112.60 542.78,113.16 544.29,113.68 545.80,114.18 547.31,114.65 548.83,115.10 550.34,115.52 551.85,115.92 553.36,116.29 554.87,116.65 556.38,116.98 557.89,117.30 559.40,117.59 560.91,117.87 562.43,118.14 563.94,118.38 565.45,118.62 566.96,118.84 568.47,119.04 569.98,119.23 571.49,119.42 573.00,119.59 574.52,119.75 576.03,119.90 577.54,120.04 579.05,120.17 580.56,120.30 582.07,120.42 583.58,120.53 585.10,120.64 586.61,120.74 588.12,120.83 589.63,120.92 591.14,121.01 592.65,121.09 594.16,121.17 595.67,121.24 597.18,121.32 598.70,121.39 600.21,121.45 601.72,121.52 603.23,121.58 604.74,121.65 606.25,121.71 607.76,121.77 609.27,121.83 610.79,121.89 612.30,121.95 613.81,122.01 615.32,122.08 616.83,122.14 618.34,122.20 619.85,122.27 621.37,122.33 622.88,122.40 624.39,122.47 625.90,122.54 627.41,122.61 628.92,122.69 630.43,122.76 631.94,122.84 633.45,122.93 634.97,123.01 636.48,123.10 637.99,123.19 639.50,123.29" fill="none" stroke="#2020e0" stroke-width="1.45" stroke-linejoin="round"/>
<text transform="translate(390.2,151.0) scale(1,1.1)" font-size="13" text-anchor="end" >-2</text>
<text transform="translate(390.2,131.83333333333334) scale(1,1.1)" font-size="13" text-anchor="end" >0</text>
<text transform="translate(390.2,112.66666666666667) scale(1,1.1)" font-size="13" text-anchor="end" >2</text>
<text transform="translate(390.2,93.5) scale(1,1.1)" font-size="13" text-anchor="end" >4</text>
<text transform="translate(390.2,74.33333333333334) scale(1,1.1)" font-size="13" text-anchor="end" >6</text>
<text transform="translate(390.2,55.16666666666666) scale(1,1.1)" font-size="13" text-anchor="end" >8</text>
<text transform="translate(390.2,36.0) scale(1,1.1)" font-size="13" text-anchor="end" >10</text>
<text transform="translate(651.8,128.0) scale(1,1.1)" font-size="13" text-anchor="start" >0</text>
<text transform="translate(651.8,82.0) scale(1,1.1)" font-size="13" text-anchor="start" >2</text>
<text transform="translate(651.8,36.0) scale(1,1.1)" font-size="13" text-anchor="start" >4</text>
<text x="345.9" y="14.0" font-size="13.5" text-anchor="start" >(b)</text>
<text x="521.1" y="17.7" font-size="13" text-anchor="middle">&#1090;<tspan font-size="9.2" dy="3.2">DAPs</tspan><tspan dy="-3.2" font-size="14"> = 10 fs</tspan></text>
<text transform="translate(365.1,90.2) rotate(-90)" font-size="14" text-anchor="middle">&#916;k (&#215;10<tspan font-size="10" dy="-9.2">-6</tspan><tspan dy="9.2">)</tspan></text>
<text transform="translate(665.0,88.4) rotate(90)" font-size="14" text-anchor="middle">&#916;n (&#215;10<tspan font-size="10" dy="-9.2">-5</tspan><tspan dy="9.2">)</tspan></text>
<text x="627.4" y="44.8" font-size="10.8" text-anchor="end">&#1090; = 8.8 &#177; 0.7 fs</text>
<path d="M54.5,181.0V297.0M296.5,181.0V297.0M54.0,181.5H297.0M54.0,296.5H297.0" stroke="#1a1a1a" stroke-width="1" fill="none"/>
<path d="M54.50,181.5v-5M54.50,296.5v5M57.96,181.5v-2.4M57.96,296.5v2.4M61.41,181.5v-2.4M61.41,296.5v2.4M64.87,181.5v-2.4M64.87,296.5v2.4M68.33,181.5v-2.4M68.33,296.5v2.4M71.79,181.5v-3.5M71.79,296.5v3.5M75.24,181.5v-2.4M75.24,296.5v2.4M78.70,181.5v-2.4M78.70,296.5v2.4M82.16,181.5v-2.4M82.16,296.5v2.4M85.61,181.5v-2.4M85.61,296.5v2.4M89.07,181.5v-5M89.07,296.5v5M92.53,181.5v-2.4M92.53,296.5v2.4M95.99,181.5v-2.4M95.99,296.5v2.4M99.44,181.5v-2.4M99.44,296.5v2.4M102.90,181.5v-2.4M102.90,296.5v2.4M106.36,181.5v-3.5M106.36,296.5v3.5M109.81,181.5v-2.4M109.81,296.5v2.4M113.27,181.5v-2.4M113.27,296.5v2.4M116.73,181.5v-2.4M116.73,296.5v2.4M120.19,181.5v-2.4M120.19,296.5v2.4M123.64,181.5v-5M123.64,296.5v5M127.10,181.5v-2.4M127.10,296.5v2.4M130.56,181.5v-2.4M130.56,296.5v2.4M134.01,181.5v-2.4M134.01,296.5v2.4M137.47,181.5v-2.4M137.47,296.5v2.4M140.93,181.5v-3.5M140.93,296.5v3.5M144.39,181.5v-2.4M144.39,296.5v2.4M147.84,181.5v-2.4M147.84,296.5v2.4M151.30,181.5v-2.4M151.30,296.5v2.4M154.76,181.5v-2.4M154.76,296.5v2.4M158.21,181.5v-5M158.21,296.5v5M161.67,181.5v-2.4M161.67,296.5v2.4M165.13,181.5v-2.4M165.13,296.5v2.4M168.59,181.5v-2.4M168.59,296.5v2.4M172.04,181.5v-2.4M172.04,296.5v2.4M175.50,181.5v-3.5M175.50,296.5v3.5M178.96,181.5v-2.4M178.96,296.5v2.4M182.41,181.5v-2.4M182.41,296.5v2.4M185.87,181.5v-2.4M185.87,296.5v2.4M189.33,181.5v-2.4M189.33,296.5v2.4M192.79,181.5v-5M192.79,296.5v5M196.24,181.5v-2.4M196.24,296.5v2.4M199.70,181.5v-2.4M199.70,296.5v2.4M203.16,181.5v-2.4M203.16,296.5v2.4M206.61,181.5v-2.4M206.61,296.5v2.4M210.07,181.5v-3.5M210.07,296.5v3.5M213.53,181.5v-2.4M213.53,296.5v2.4M216.99,181.5v-2.4M216.99,296.5v2.4M220.44,181.5v-2.4M220.44,296.5v2.4M223.90,181.5v-2.4M223.90,296.5v2.4M227.36,181.5v-5M227.36,296.5v5M230.81,181.5v-2.4M230.81,296.5v2.4M234.27,181.5v-2.4M234.27,296.5v2.4M237.73,181.5v-2.4M237.73,296.5v2.4M241.19,181.5v-2.4M241.19,296.5v2.4M244.64,181.5v-3.5M244.64,296.5v3.5M248.10,181.5v-2.4M248.10,296.5v2.4M251.56,181.5v-2.4M251.56,296.5v2.4M255.01,181.5v-2.4M255.01,296.5v2.4M258.47,181.5v-2.4M258.47,296.5v2.4M261.93,181.5v-5M261.93,296.5v5M265.39,181.5v-2.4M265.39,296.5v2.4M268.84,181.5v-2.4M268.84,296.5v2.4M272.30,181.5v-2.4M272.30,296.5v2.4M275.76,181.5v-2.4M275.76,296.5v2.4M279.21,181.5v-3.5M279.21,296.5v3.5M282.67,181.5v-2.4M282.67,296.5v2.4M286.13,181.5v-2.4M286.13,296.5v2.4M289.59,181.5v-2.4M289.59,296.5v2.4M293.04,181.5v-2.4M293.04,296.5v2.4M296.50,181.5v-5M296.50,296.5v5M54.5,296.50h-4.9M54.5,289.31h-2.6M54.5,282.12h-2.6M54.5,274.94h-2.6M54.5,267.75h-4.9M54.5,260.56h-2.6M54.5,253.38h-2.6M54.5,246.19h-2.6M54.5,239.00h-4.9M54.5,231.81h-2.6M54.5,224.62h-2.6M54.5,217.44h-2.6M54.5,210.25h-4.9M54.5,203.06h-2.6M54.5,195.88h-2.6M54.5,188.69h-2.6M54.5,181.50h-4.9M296.5,296.50h5.0M296.5,292.67h2.5M296.5,288.83h2.5M296.5,285.00h2.5M296.5,281.17h2.5M296.5,277.33h3.6M296.5,273.50h2.5M296.5,269.67h2.5M296.5,265.83h2.5M296.5,262.00h2.5M296.5,258.17h5.0M296.5,254.33h2.5M296.5,250.50h2.5M296.5,246.67h2.5M296.5,242.83h2.5M296.5,239.00h3.6M296.5,235.17h2.5M296.5,231.33h2.5M296.5,227.50h2.5M296.5,223.67h2.5M296.5,219.83h5.0M296.5,216.00h2.5M296.5,212.17h2.5M296.5,208.33h2.5M296.5,204.50h2.5M296.5,200.67h3.6M296.5,196.83h2.5M296.5,193.00h2.5M296.5,189.17h2.5M296.5,185.33h2.5M296.5,181.50h5.0" stroke="#3a3a3a" stroke-width="0.95" fill="none"/>
<path d="M54.50,253.30L56.80,255.60L54.50,257.90L52.20,255.60ZM57.96,261.30L60.26,263.60L57.96,265.90L55.66,263.60ZM61.41,263.70L63.71,266.00L61.41,268.30L59.11,266.00ZM64.87,264.70L67.17,267.00L64.87,269.30L62.57,267.00ZM68.33,255.70L70.63,258.00L68.33,260.30L66.03,258.00ZM71.79,249.10L74.09,251.40L71.79,253.70L69.49,251.40ZM75.24,266.70L77.54,269.00L75.24,271.30L72.94,269.00ZM78.70,253.70L81.00,256.00L78.70,258.30L76.40,256.00ZM82.16,263.30L84.46,265.60L82.16,267.90L79.86,265.60ZM85.61,256.70L87.91,259.00L85.61,261.30L83.31,259.00ZM89.07,280.70L91.37,283.00L89.07,285.30L86.77,283.00ZM92.53,267.70L94.83,270.00L92.53,272.30L90.23,270.00ZM95.99,279.70L98.29,282.00L95.99,284.30L93.69,282.00ZM99.44,277.70L101.74,280.00L99.44,282.30L97.14,280.00ZM102.90,280.10L105.20,282.40L102.90,284.70L100.60,282.40ZM106.36,266.70L108.66,269.00L106.36,271.30L104.06,269.00ZM109.81,262.70L112.11,265.00L109.81,267.30L107.51,265.00ZM113.27,269.30L115.57,271.60L113.27,273.90L110.97,271.60ZM116.73,251.70L119.03,254.00L116.73,256.30L114.43,254.00ZM120.19,229.90L122.49,232.20L120.19,234.50L117.89,232.20ZM123.64,238.70L125.94,241.00L123.64,243.30L121.34,241.00ZM127.10,243.90L129.40,246.20L127.10,248.50L124.80,246.20ZM130.56,247.30L132.86,249.60L130.56,251.90L128.26,249.60ZM134.01,226.10L136.31,228.40L134.01,230.70L131.71,228.40ZM137.47,253.10L139.77,255.40L137.47,257.70L135.17,255.40ZM140.93,243.90L143.23,246.20L140.93,248.50L138.63,246.20ZM144.39,247.70L146.69,250.00L144.39,252.30L142.09,250.00ZM147.84,254.10L150.14,256.40L147.84,258.70L145.54,256.40ZM151.30,243.50L153.60,245.80L151.30,248.10L149.00,245.80ZM154.76,252.10L157.06,254.40L154.76,256.70L152.46,254.40ZM158.21,247.30L160.51,249.60L158.21,251.90L155.91,249.60ZM161.67,250.10L163.97,252.40L161.67,254.70L159.37,252.40ZM165.13,255.30L167.43,257.60L165.13,259.90L162.83,257.60ZM168.59,241.50L170.89,243.80L168.59,246.10L166.29,243.80ZM172.04,235.50L174.34,237.80L172.04,240.10L169.74,237.80ZM175.50,251.70L177.80,254.00L175.50,256.30L173.20,254.00ZM178.96,223.70L181.26,226.00L178.96,228.30L176.66,226.00ZM182.41,251.70L184.71,254.00L182.41,256.30L180.11,254.00ZM185.87,259.30L188.17,261.60L185.87,263.90L183.57,261.60ZM189.33,257.70L191.63,260.00L189.33,262.30L187.03,260.00ZM192.79,246.70L195.09,249.00L192.79,251.30L190.49,249.00ZM196.24,239.90L198.54,242.20L196.24,244.50L193.94,242.20ZM199.70,245.70L202.00,248.00L199.70,250.30L197.40,248.00ZM203.16,243.90L205.46,246.20L203.16,248.50L200.86,246.20ZM206.61,232.10L208.91,234.40L206.61,236.70L204.31,234.40ZM210.07,252.30L212.37,254.60L210.07,256.90L207.77,254.60ZM213.53,247.30L215.83,249.60L213.53,251.90L211.23,249.60ZM216.99,241.50L219.29,243.80L216.99,246.10L214.69,243.80ZM220.44,257.10L222.74,259.40L220.44,261.70L218.14,259.40ZM223.90,226.30L226.20,228.60L223.90,230.90L221.60,228.60ZM227.36,239.30L229.66,241.60L227.36,243.90L225.06,241.60ZM230.81,242.10L233.11,244.40L230.81,246.70L228.51,244.40ZM234.27,257.30L236.57,259.60L234.27,261.90L231.97,259.60ZM237.73,257.10L240.03,259.40L237.73,261.70L235.43,259.40ZM241.19,252.70L243.49,255.00L241.19,257.30L238.89,255.00ZM244.64,266.70L246.94,269.00L244.64,271.30L242.34,269.00ZM248.10,271.70L250.40,274.00L248.10,276.30L245.80,274.00ZM251.56,249.30L253.86,251.60L251.56,253.90L249.26,251.60ZM255.01,238.50L257.31,240.80L255.01,243.10L252.71,240.80ZM258.47,243.00L260.77,245.30L258.47,247.60L256.17,245.30ZM261.93,257.10L264.23,259.40L261.93,261.70L259.63,259.40ZM265.39,246.70L267.69,249.00L265.39,251.30L263.09,249.00ZM268.84,259.70L271.14,262.00L268.84,264.30L266.54,262.00ZM272.30,255.30L274.60,257.60L272.30,259.90L270.00,257.60ZM275.76,260.70L278.06,263.00L275.76,265.30L273.46,263.00ZM279.21,259.70L281.51,262.00L279.21,264.30L276.91,262.00ZM282.67,247.70L284.97,250.00L282.67,252.30L280.37,250.00ZM286.13,249.70L288.43,252.00L286.13,254.30L283.83,252.00ZM289.59,235.70L291.89,238.00L289.59,240.30L287.29,238.00ZM293.04,251.30L295.34,253.60L293.04,255.90L290.74,253.60ZM296.50,253.30L298.80,255.60L296.50,257.90L294.20,255.60Z" fill="#1010f5" stroke="none"/>
<path d="M54.50,255.70L56.80,258.00L54.50,260.30L52.20,258.00ZM57.96,252.70L60.26,255.00L57.96,257.30L55.66,255.00ZM61.41,262.30L63.71,264.60L61.41,266.90L59.11,264.60ZM64.87,271.70L67.17,274.00L64.87,276.30L62.57,274.00ZM68.33,255.30L70.63,257.60L68.33,259.90L66.03,257.60ZM71.79,249.30L74.09,251.60L71.79,253.90L69.49,251.60ZM75.24,250.30L77.54,252.60L75.24,254.90L72.94,252.60ZM78.70,252.30L81.00,254.60L78.70,256.90L76.40,254.60ZM82.16,260.70L84.46,263.00L82.16,265.30L79.86,263.00ZM85.61,252.70L87.91,255.00L85.61,257.30L83.31,255.00ZM89.07,259.30L91.37,261.60L89.07,263.90L86.77,261.60ZM92.53,255.70L94.83,258.00L92.53,260.30L90.23,258.00ZM95.99,260.70L98.29,263.00L95.99,265.30L93.69,263.00ZM99.44,235.70L101.74,238.00L99.44,240.30L97.14,238.00ZM102.90,231.30L105.20,233.60L102.90,235.90L100.60,233.60ZM106.36,235.70L108.66,238.00L106.36,240.30L104.06,238.00ZM109.81,234.70L112.11,237.00L109.81,239.30L107.51,237.00ZM113.27,208.10L115.57,210.40L113.27,212.70L110.97,210.40ZM116.73,209.30L119.03,211.60L116.73,213.90L114.43,211.60ZM120.19,205.70L122.49,208.00L120.19,210.30L117.89,208.00ZM123.64,201.70L125.94,204.00L123.64,206.30L121.34,204.00ZM127.10,213.10L129.40,215.40L127.10,217.70L124.80,215.40ZM130.56,213.70L132.86,216.00L130.56,218.30L128.26,216.00ZM134.01,194.70L136.31,197.00L134.01,199.30L131.71,197.00ZM137.47,206.70L139.77,209.00L137.47,211.30L135.17,209.00ZM140.93,209.70L143.23,212.00L140.93,214.30L138.63,212.00ZM144.39,209.70L146.69,212.00L144.39,214.30L142.09,212.00ZM147.84,208.70L150.14,211.00L147.84,213.30L145.54,211.00ZM151.30,207.70L153.60,210.00L151.30,212.30L149.00,210.00ZM154.76,209.70L157.06,212.00L154.76,214.30L152.46,212.00ZM158.21,209.10L160.51,211.40L158.21,213.70L155.91,211.40ZM161.67,211.70L163.97,214.00L161.67,216.30L159.37,214.00ZM165.13,214.70L167.43,217.00L165.13,219.30L162.83,217.00ZM168.59,197.70L170.89,200.00L168.59,202.30L166.29,200.00ZM172.04,203.70L174.34,206.00L172.04,208.30L169.74,206.00ZM175.50,217.70L177.80,220.00L175.50,222.30L173.20,220.00ZM178.96,216.10L181.26,218.40L178.96,220.70L176.66,218.40ZM182.41,222.10L184.71,224.40L182.41,226.70L180.11,224.40ZM185.87,224.10L188.17,226.40L185.87,228.70L183.57,226.40ZM189.33,227.30L191.63,229.60L189.33,231.90L187.03,229.60ZM192.79,224.70L195.09,227.00L192.79,229.30L190.49,227.00ZM196.24,227.30L198.54,229.60L196.24,231.90L193.94,229.60ZM199.70,224.10L202.00,226.40L199.70,228.70L197.40,226.40ZM203.16,226.30L205.46,228.60L203.16,230.90L200.86,228.60ZM206.61,221.10L208.91,223.40L206.61,225.70L204.31,223.40ZM210.07,239.90L212.37,242.20L210.07,244.50L207.77,242.20ZM213.53,230.20L215.83,232.50L213.53,234.80L211.23,232.50ZM216.99,239.30L219.29,241.60L216.99,243.90L214.69,241.60ZM220.44,237.20L222.74,239.50L220.44,241.80L218.14,239.50ZM223.90,225.30L226.20,227.60L223.90,229.90L221.60,227.60ZM227.36,225.30L229.66,227.60L227.36,229.90L225.06,227.60ZM230.81,233.70L233.11,236.00L230.81,238.30L228.51,236.00ZM234.27,248.70L236.57,251.00L234.27,253.30L231.97,251.00ZM237.73,240.20L240.03,242.50L237.73,244.80L235.43,242.50ZM241.19,240.70L243.49,243.00L241.19,245.30L238.89,243.00ZM244.64,244.20L246.94,246.50L244.64,248.80L242.34,246.50ZM248.10,249.30L250.40,251.60L248.10,253.90L245.80,251.60ZM251.56,238.70L253.86,241.00L251.56,243.30L249.26,241.00ZM255.01,234.20L257.31,236.50L255.01,238.80L252.71,236.50ZM258.47,237.20L260.77,239.50L258.47,241.80L256.17,239.50ZM261.93,243.00L264.23,245.30L261.93,247.60L259.63,245.30ZM265.39,228.30L267.69,230.60L265.39,232.90L263.09,230.60ZM268.84,244.10L271.14,246.40L268.84,248.70L266.54,246.40ZM272.30,242.10L274.60,244.40L272.30,246.70L270.00,244.40ZM275.76,247.30L278.06,249.60L275.76,251.90L273.46,249.60ZM279.21,247.30L281.51,249.60L279.21,251.90L276.91,249.60ZM282.67,244.70L284.97,247.00L282.67,249.30L280.37,247.00ZM286.13,247.30L288.43,249.60L286.13,251.90L283.83,249.60ZM289.59,243.00L291.89,245.30L289.59,247.60L287.29,245.30ZM293.04,245.30L295.34,247.60L293.04,249.90L290.74,247.60ZM296.50,248.70L298.80,251.00L296.50,253.30L294.20,251.00Z" fill="#ff0a0a" stroke="none"/>
<polyline points="54.50,268.05 56.01,268.03 57.52,268.02 59.04,268.00 60.55,267.98 62.06,267.97 63.58,267.94 65.09,267.92 66.60,267.90 68.11,267.87 69.62,267.83 71.14,267.79 72.65,267.74 74.16,267.68 75.67,267.60 77.19,267.51 78.70,267.40 80.21,267.27 81.72,267.11 83.24,266.92 84.75,266.69 86.26,266.42 87.78,266.10 89.29,265.72 90.80,265.28 92.31,264.76 93.82,264.17 95.34,263.49 96.85,262.71 98.36,261.83 99.88,260.84 101.39,259.74 102.90,258.52 104.41,257.17 105.92,255.70 107.44,254.10 108.95,252.38 110.46,250.53 111.97,248.57 113.49,246.50 115.00,244.34 116.51,242.08 118.03,239.75 119.54,237.37 121.05,234.95 122.56,232.50 124.08,230.05 125.59,227.62 127.10,225.23 128.61,222.90 130.12,220.64 131.64,218.48 133.15,216.43 134.66,214.51 136.18,212.72 137.69,211.08 139.20,209.60 140.71,208.29 142.22,207.14 143.74,206.15 145.25,205.34 146.76,204.68 148.27,204.19 149.79,203.84 151.30,203.64 152.81,203.58 154.32,203.64 155.84,203.81 157.35,204.09 158.86,204.46 160.38,204.91 161.89,205.44 163.40,206.03 164.91,206.67 166.43,207.36 167.94,208.08 169.45,208.84 170.96,209.61 172.47,210.41 173.99,211.22 175.50,212.03 177.01,212.85 178.52,213.67 180.04,214.50 181.55,215.31 183.06,216.12 184.57,216.93 186.09,217.73 187.60,218.51 189.11,219.29 190.62,220.06 192.14,220.82 193.65,221.57 195.16,222.30 196.67,223.03 198.19,223.74 199.70,224.44 201.21,225.14 202.72,225.82 204.24,226.49 205.75,227.15 207.26,227.80 208.78,228.44 210.29,229.07 211.80,229.69 213.31,230.29 214.82,230.89 216.34,231.48 217.85,232.06 219.36,232.63 220.88,233.19 222.39,233.75 223.90,234.29 225.41,234.82 226.92,235.35 228.44,235.87 229.95,236.37 231.46,236.87 232.97,237.37 234.49,237.85 236.00,238.32 237.51,238.79 239.03,239.25 240.54,239.70 242.05,240.15 243.56,240.59 245.07,241.02 246.59,241.44 248.10,241.85 249.61,242.26 251.12,242.66 252.64,243.06 254.15,243.45 255.66,243.83 257.17,244.20 258.69,244.57 260.20,244.94 261.71,245.29 263.23,245.64 264.74,245.98 266.25,246.32 267.76,246.65 269.27,246.98 270.79,247.30 272.30,247.61 273.81,247.92 275.32,248.23 276.84,248.52 278.35,248.82 279.86,249.10 281.38,249.39 282.89,249.66 284.40,249.93 285.91,250.20 287.42,250.46 288.94,250.72 290.45,250.97 291.96,251.22 293.48,251.46 294.99,251.70 296.50,251.93" fill="none" stroke="#e81c1c" stroke-width="1.45" stroke-linejoin="round"/>
<polyline points="54.50,257.97 56.01,257.98 57.52,257.99 59.04,258.01 60.55,258.02 62.06,258.03 63.58,258.04 65.09,258.05 66.60,258.06 68.11,258.06 69.62,258.07 71.14,258.08 72.65,258.08 74.16,258.08 75.67,258.08 77.19,258.08 78.70,258.07 80.21,258.07 81.72,258.05 83.24,258.04 84.75,258.01 86.26,257.98 87.78,257.95 89.29,257.90 90.80,257.84 92.31,257.77 93.82,257.69 95.34,257.59 96.85,257.48 98.36,257.35 99.88,257.19 101.39,257.02 102.90,256.83 104.41,256.61 105.92,256.36 107.44,256.09 108.95,255.79 110.46,255.47 111.97,255.12 113.49,254.75 115.00,254.35 116.51,253.94 118.03,253.50 119.54,253.05 121.05,252.59 122.56,252.11 124.08,251.63 125.59,251.15 127.10,250.68 128.61,250.21 130.12,249.75 131.64,249.30 133.15,248.88 134.66,248.48 136.18,248.10 137.69,247.75 139.20,247.43 140.71,247.14 142.22,246.88 143.74,246.66 145.25,246.47 146.76,246.31 148.27,246.19 149.79,246.09 151.30,246.03 152.81,245.99 154.32,245.97 155.84,245.98 157.35,246.02 158.86,246.06 160.38,246.13 161.89,246.21 163.40,246.30 164.91,246.41 166.43,246.52 167.94,246.64 169.45,246.77 170.96,246.90 172.47,247.03 173.99,247.17 175.50,247.31 177.01,247.45 178.52,247.59 180.04,247.73 181.55,247.87 183.06,248.01 184.57,248.15 186.09,248.29 187.60,248.42 189.11,248.56 190.62,248.69 192.14,248.82 193.65,248.95 195.16,249.08 196.67,249.20 198.19,249.33 199.70,249.45 201.21,249.57 202.72,249.69 204.24,249.81 205.75,249.93 207.26,250.04 208.78,250.16 210.29,250.27 211.80,250.38 213.31,250.49 214.82,250.60 216.34,250.70 217.85,250.81 219.36,250.91 220.88,251.02 222.39,251.12 223.90,251.22 225.41,251.32 226.92,251.42 228.44,251.51 229.95,251.61 231.46,251.71 232.97,251.80 234.49,251.89 236.00,251.99 237.51,252.08 239.03,252.17 240.54,252.26 242.05,252.35 243.56,252.44 245.07,252.52 246.59,252.61 248.10,252.69 249.61,252.78 251.12,252.86 252.64,252.95 254.15,253.03 255.66,253.11 257.17,253.20 258.69,253.28 260.20,253.36 261.71,253.44 263.23,253.52 264.74,253.60 266.25,253.68 267.76,253.75 269.27,253.83 270.79,253.91 272.30,253.99 273.81,254.06 275.32,254.14 276.84,254.22 278.35,254.29 279.86,254.37 281.38,254.44 282.89,254.52 284.40,254.59 285.91,254.67 287.42,254.74 288.94,254.82 290.45,254.89 291.96,254.97 293.48,255.04 294.99,255.12 296.50,255.19" fill="none" stroke="#2020e0" stroke-width="1.45" stroke-linejoin="round"/>
<text transform="translate(47.0,301.0) scale(1,1.1)" font-size="13" text-anchor="end" >-2</text>
<text transform="translate(47.0,272.25) scale(1,1.1)" font-size="13" text-anchor="end" >0</text>
<text transform="translate(47.0,243.5) scale(1,1.1)" font-size="13" text-anchor="end" >2</text>
<text transform="translate(47.0,214.75) scale(1,1.1)" font-size="13" text-anchor="end" >4</text>
<text transform="translate(47.0,186.0) scale(1,1.1)" font-size="13" text-anchor="end" >6</text>
<text transform="translate(308.8,301.0) scale(1,1.1)" font-size="13" text-anchor="start" >-1</text>
<text transform="translate(308.8,262.6666666666667) scale(1,1.1)" font-size="13" text-anchor="start" >0</text>
<text transform="translate(308.8,224.33333333333334) scale(1,1.1)" font-size="13" text-anchor="start" >1</text>
<text transform="translate(308.8,186.0) scale(1,1.1)" font-size="13" text-anchor="start" >2</text>
<text transform="translate(54.90,317.0) scale(1,1.1)" font-size="13" text-anchor="middle" >-20</text>
<text transform="translate(89.47,317.0) scale(1,1.1)" font-size="13" text-anchor="middle" >-10</text>
<text transform="translate(124.04,317.0) scale(1,1.1)" font-size="13" text-anchor="middle" >0</text>
<text transform="translate(158.61,317.0) scale(1,1.1)" font-size="13" text-anchor="middle" >10</text>
<text transform="translate(193.19,317.0) scale(1,1.1)" font-size="13" text-anchor="middle" >20</text>
<text transform="translate(227.76,317.0) scale(1,1.1)" font-size="13" text-anchor="middle" >30</text>
<text transform="translate(262.33,317.0) scale(1,1.1)" font-size="13" text-anchor="middle" >40</text>
<text transform="translate(296.90,317.0) scale(1,1.1)" font-size="13" text-anchor="middle" >50</text>
<text x="10.7" y="169.0" font-size="13.5" text-anchor="start" >(c)</text>
<text x="176.0" y="332" font-size="13.5" text-anchor="middle">Delay &#1090;<tspan font-size="9.6" dy="3" dx="-0.5">NIR-DAPs</tspan><tspan dy="-3"> (fs)</tspan></text>
<text transform="translate(29.1,240.2) rotate(-90)" font-size="14" text-anchor="middle">&#916;k (&#215;10<tspan font-size="10" dy="-9.2">-6</tspan><tspan dy="9.2">)</tspan></text>
<text transform="translate(322.0,238.4) rotate(90)" font-size="14" text-anchor="middle">&#916;n (&#215;10<tspan font-size="10" dy="-9.2">-5</tspan><tspan dy="9.2">)</tspan></text>
<rect x="206.5" y="281.1" width="82" height="13" fill="#fff" stroke="none"/>
<text x="287.5" y="291.90000000000003" font-size="10.8" text-anchor="end">&#1090; = 27.7 &#177; 6.0 fs</text>
<path d="M397.7,181.0V297.0M639.5,181.0V297.0M397.2,181.5H640.0M397.2,296.5H640.0" stroke="#1a1a1a" stroke-width="1" fill="none"/>
<path d="M397.70,181.5v-5M397.70,296.5v5M401.15,181.5v-2.4M401.15,296.5v2.4M404.61,181.5v-2.4M404.61,296.5v2.4M408.06,181.5v-2.4M408.06,296.5v2.4M411.52,181.5v-2.4M411.52,296.5v2.4M414.97,181.5v-3.5M414.97,296.5v3.5M418.43,181.5v-2.4M418.43,296.5v2.4M421.88,181.5v-2.4M421.88,296.5v2.4M425.33,181.5v-2.4M425.33,296.5v2.4M428.79,181.5v-2.4M428.79,296.5v2.4M432.24,181.5v-5M432.24,296.5v5M435.70,181.5v-2.4M435.70,296.5v2.4M439.15,181.5v-2.4M439.15,296.5v2.4M442.61,181.5v-2.4M442.61,296.5v2.4M446.06,181.5v-2.4M446.06,296.5v2.4M449.51,181.5v-3.5M449.51,296.5v3.5M452.97,181.5v-2.4M452.97,296.5v2.4M456.42,181.5v-2.4M456.42,296.5v2.4M459.88,181.5v-2.4M459.88,296.5v2.4M463.33,181.5v-2.4M463.33,296.5v2.4M466.79,181.5v-5M466.79,296.5v5M470.24,181.5v-2.4M470.24,296.5v2.4M473.69,181.5v-2.4M473.69,296.5v2.4M477.15,181.5v-2.4M477.15,296.5v2.4M480.60,181.5v-2.4M480.60,296.5v2.4M484.06,181.5v-3.5M484.06,296.5v3.5M487.51,181.5v-2.4M487.51,296.5v2.4M490.97,181.5v-2.4M490.97,296.5v2.4M494.42,181.5v-2.4M494.42,296.5v2.4M497.87,181.5v-2.4M497.87,296.5v2.4M501.33,181.5v-5M501.33,296.5v5M504.78,181.5v-2.4M504.78,296.5v2.4M508.24,181.5v-2.4M508.24,296.5v2.4M511.69,181.5v-2.4M511.69,296.5v2.4M515.15,181.5v-2.4M515.15,296.5v2.4M518.60,181.5v-3.5M518.60,296.5v3.5M522.05,181.5v-2.4M522.05,296.5v2.4M525.51,181.5v-2.4M525.51,296.5v2.4M528.96,181.5v-2.4M528.96,296.5v2.4M532.42,181.5v-2.4M532.42,296.5v2.4M535.87,181.5v-5M535.87,296.5v5M539.33,181.5v-2.4M539.33,296.5v2.4M542.78,181.5v-2.4M542.78,296.5v2.4M546.23,181.5v-2.4M546.23,296.5v2.4M549.69,181.5v-2.4M549.69,296.5v2.4M553.14,181.5v-3.5M553.14,296.5v3.5M556.60,181.5v-2.4M556.60,296.5v2.4M560.05,181.5v-2.4M560.05,296.5v2.4M563.51,181.5v-2.4M563.51,296.5v2.4M566.96,181.5v-2.4M566.96,296.5v2.4M570.41,181.5v-5M570.41,296.5v5M573.87,181.5v-2.4M573.87,296.5v2.4M577.32,181.5v-2.4M577.32,296.5v2.4M580.78,181.5v-2.4M580.78,296.5v2.4M584.23,181.5v-2.4M584.23,296.5v2.4M587.69,181.5v-3.5M587.69,296.5v3.5M591.14,181.5v-2.4M591.14,296.5v2.4M594.59,181.5v-2.4M594.59,296.5v2.4M598.05,181.5v-2.4M598.05,296.5v2.4M601.50,181.5v-2.4M601.50,296.5v2.4M604.96,181.5v-5M604.96,296.5v5M608.41,181.5v-2.4M608.41,296.5v2.4M611.87,181.5v-2.4M611.87,296.5v2.4M615.32,181.5v-2.4M615.32,296.5v2.4M618.77,181.5v-2.4M618.77,296.5v2.4M622.23,181.5v-3.5M622.23,296.5v3.5M625.68,181.5v-2.4M625.68,296.5v2.4M629.14,181.5v-2.4M629.14,296.5v2.4M632.59,181.5v-2.4M632.59,296.5v2.4M636.05,181.5v-2.4M636.05,296.5v2.4M639.50,181.5v-5M639.50,296.5v5M397.7,296.50h-4.9M397.7,289.31h-2.6M397.7,282.12h-2.6M397.7,274.94h-2.6M397.7,267.75h-4.9M397.7,260.56h-2.6M397.7,253.38h-2.6M397.7,246.19h-2.6M397.7,239.00h-4.9M397.7,231.81h-2.6M397.7,224.62h-2.6M397.7,217.44h-2.6M397.7,210.25h-4.9M397.7,203.06h-2.6M397.7,195.88h-2.6M397.7,188.69h-2.6M397.7,181.50h-4.9M639.5,296.50h3.6M639.5,291.90h2.5M639.5,287.30h2.5M639.5,282.70h2.5M639.5,278.10h2.5M639.5,273.50h5.0M639.5,268.90h2.5M639.5,264.30h2.5M639.5,259.70h2.5M639.5,255.10h2.5M639.5,250.50h3.6M639.5,245.90h2.5M639.5,241.30h2.5M639.5,236.70h2.5M639.5,232.10h2.5M639.5,227.50h5.0M639.5,222.90h2.5M639.5,218.30h2.5M639.5,213.70h2.5M639.5,209.10h2.5M639.5,204.50h3.6M639.5,199.90h2.5M639.5,195.30h2.5M639.5,190.70h2.5M639.5,186.10h2.5M639.5,181.50h5.0" stroke="#3a3a3a" stroke-width="0.95" fill="none"/>
<path d="M397.70,244.10L400.00,246.40L397.70,248.70L395.40,246.40ZM401.15,258.10L403.45,260.40L401.15,262.70L398.85,260.40ZM404.61,253.10L406.91,255.40L404.61,257.70L402.31,255.40ZM408.06,256.10L410.36,258.40L408.06,260.70L405.76,258.40ZM411.52,265.30L413.82,267.60L411.52,269.90L409.22,267.60ZM414.97,246.10L417.27,248.40L414.97,250.70L412.67,248.40ZM418.43,231.70L420.73,234.00L418.43,236.30L416.13,234.00ZM421.88,242.70L424.18,245.00L421.88,247.30L419.58,245.00ZM425.33,243.30L427.63,245.60L425.33,247.90L423.03,245.60ZM428.79,260.10L431.09,262.40L428.79,264.70L426.49,262.40ZM432.24,265.30L434.54,267.60L432.24,269.90L429.94,267.60ZM435.70,244.70L438.00,247.00L435.70,249.30L433.40,247.00ZM439.15,239.30L441.45,241.60L439.15,243.90L436.85,241.60ZM442.61,248.10L444.91,250.40L442.61,252.70L440.31,250.40ZM446.06,261.70L448.36,264.00L446.06,266.30L443.76,264.00ZM449.51,260.10L451.81,262.40L449.51,264.70L447.21,262.40ZM452.97,249.30L455.27,251.60L452.97,253.90L450.67,251.60ZM456.42,243.70L458.72,246.00L456.42,248.30L454.12,246.00ZM459.88,227.30L462.18,229.60L459.88,231.90L457.58,229.60ZM463.33,254.30L465.63,256.60L463.33,258.90L461.03,256.60ZM466.79,254.10L469.09,256.40L466.79,258.70L464.49,256.40ZM470.24,248.10L472.54,250.40L470.24,252.70L467.94,250.40ZM473.69,244.70L475.99,247.00L473.69,249.30L471.39,247.00ZM477.15,247.30L479.45,249.60L477.15,251.90L474.85,249.60ZM480.60,240.10L482.90,242.40L480.60,244.70L478.30,242.40ZM484.06,267.30L486.36,269.60L484.06,271.90L481.76,269.60ZM487.51,241.30L489.81,243.60L487.51,245.90L485.21,243.60ZM490.97,232.10L493.27,234.40L490.97,236.70L488.67,234.40ZM494.42,251.30L496.72,253.60L494.42,255.90L492.12,253.60ZM497.87,251.30L500.17,253.60L497.87,255.90L495.57,253.60ZM501.33,224.10L503.63,226.40L501.33,228.70L499.03,226.40ZM504.78,243.70L507.08,246.00L504.78,248.30L502.48,246.00ZM508.24,232.40L510.54,234.70L508.24,237.00L505.94,234.70ZM511.69,250.70L513.99,253.00L511.69,255.30L509.39,253.00ZM515.15,227.10L517.45,229.40L515.15,231.70L512.85,229.40ZM518.60,249.70L520.90,252.00L518.60,254.30L516.30,252.00ZM522.05,237.30L524.35,239.60L522.05,241.90L519.75,239.60ZM525.51,234.40L527.81,236.70L525.51,239.00L523.21,236.70ZM528.96,222.70L531.26,225.00L528.96,227.30L526.66,225.00ZM532.42,242.10L534.72,244.40L532.42,246.70L530.12,244.40ZM535.87,225.10L538.17,227.40L535.87,229.70L533.57,227.40ZM539.33,228.70L541.63,231.00L539.33,233.30L537.03,231.00ZM542.78,244.30L545.08,246.60L542.78,248.90L540.48,246.60ZM546.23,239.70L548.53,242.00L546.23,244.30L543.93,242.00ZM549.69,245.70L551.99,248.00L549.69,250.30L547.39,248.00ZM553.14,257.70L555.44,260.00L553.14,262.30L550.84,260.00ZM556.60,257.70L558.90,260.00L556.60,262.30L554.30,260.00ZM560.05,233.30L562.35,235.60L560.05,237.90L557.75,235.60ZM563.51,233.30L565.81,235.60L563.51,237.90L561.21,235.60ZM566.96,243.30L569.26,245.60L566.96,247.90L564.66,245.60ZM570.41,259.70L572.71,262.00L570.41,264.30L568.11,262.00ZM573.87,235.10L576.17,237.40L573.87,239.70L571.57,237.40ZM577.32,260.30L579.62,262.60L577.32,264.90L575.02,262.60ZM580.78,235.70L583.08,238.00L580.78,240.30L578.48,238.00ZM584.23,247.70L586.53,250.00L584.23,252.30L581.93,250.00ZM587.69,272.10L589.99,274.40L587.69,276.70L585.39,274.40ZM591.14,274.10L593.44,276.40L591.14,278.70L588.84,276.40ZM594.59,243.30L596.89,245.60L594.59,247.90L592.29,245.60ZM598.05,262.10L600.35,264.40L598.05,266.70L595.75,264.40ZM601.50,252.70L603.80,255.00L601.50,257.30L599.20,255.00ZM604.96,248.10L607.26,250.40L604.96,252.70L602.66,250.40ZM608.41,251.30L610.71,253.60L608.41,255.90L606.11,253.60ZM611.87,254.70L614.17,257.00L611.87,259.30L609.57,257.00ZM615.32,246.70L617.62,249.00L615.32,251.30L613.02,249.00ZM618.77,233.30L621.07,235.60L618.77,237.90L616.47,235.60ZM622.23,271.30L624.53,273.60L622.23,275.90L619.93,273.60ZM625.68,258.70L627.98,261.00L625.68,263.30L623.38,261.00ZM629.14,239.30L631.44,241.60L629.14,243.90L626.84,241.60ZM632.59,261.30L634.89,263.60L632.59,265.90L630.29,263.60ZM636.05,255.70L638.35,258.00L636.05,260.30L633.75,258.00ZM639.50,221.70L641.80,224.00L639.50,226.30L637.20,224.00Z" fill="#1010f5" stroke="none"/>
<path d="M397.70,262.10L400.00,264.40L397.70,266.70L395.40,264.40ZM401.15,266.70L403.45,269.00L401.15,271.30L398.85,269.00ZM404.61,290.30L406.91,292.60L404.61,294.90L402.31,292.60ZM408.06,265.30L410.36,267.60L408.06,269.90L405.76,267.60ZM411.52,271.30L413.82,273.60L411.52,275.90L409.22,273.60ZM414.97,252.10L417.27,254.40L414.97,256.70L412.67,254.40ZM418.43,240.10L420.73,242.40L418.43,244.70L416.13,242.40ZM421.88,254.70L424.18,257.00L421.88,259.30L419.58,257.00ZM425.33,259.70L427.63,262.00L425.33,264.30L423.03,262.00ZM428.79,254.70L431.09,257.00L428.79,259.30L426.49,257.00ZM432.24,280.30L434.54,282.60L432.24,284.90L429.94,282.60ZM435.70,250.30L438.00,252.60L435.70,254.90L433.40,252.60ZM439.15,238.10L441.45,240.40L439.15,242.70L436.85,240.40ZM442.61,246.10L444.91,248.40L442.61,250.70L440.31,248.40ZM446.06,255.10L448.36,257.40L446.06,259.70L443.76,257.40ZM449.51,252.30L451.81,254.60L449.51,256.90L447.21,254.60ZM452.97,249.30L455.27,251.60L452.97,253.90L450.67,251.60ZM456.42,233.30L458.72,235.60L456.42,237.90L454.12,235.60ZM459.88,244.20L462.18,246.50L459.88,248.80L457.58,246.50ZM463.33,243.20L465.63,245.50L463.33,247.80L461.03,245.50ZM466.79,241.50L469.09,243.80L466.79,246.10L464.49,243.80ZM470.24,221.70L472.54,224.00L470.24,226.30L467.94,224.00ZM473.69,238.10L475.99,240.40L473.69,242.70L471.39,240.40ZM477.15,232.10L479.45,234.40L477.15,236.70L474.85,234.40ZM480.60,232.10L482.90,234.40L480.60,236.70L478.30,234.40ZM484.06,239.30L486.36,241.60L484.06,243.90L481.76,241.60ZM487.51,237.30L489.81,239.60L487.51,241.90L485.21,239.60ZM490.97,235.70L493.27,238.00L490.97,240.30L488.67,238.00ZM494.42,236.30L496.72,238.60L494.42,240.90L492.12,238.60ZM497.87,229.10L500.17,231.40L497.87,233.70L495.57,231.40ZM501.33,207.30L503.63,209.60L501.33,211.90L499.03,209.60ZM504.78,236.10L507.08,238.40L504.78,240.70L502.48,238.40ZM508.24,226.70L510.54,229.00L508.24,231.30L505.94,229.00ZM511.69,249.30L513.99,251.60L511.69,253.90L509.39,251.60ZM515.15,221.30L517.45,223.60L515.15,225.90L512.85,223.60ZM518.60,245.10L520.90,247.40L518.60,249.70L516.30,247.40ZM522.05,218.10L524.35,220.40L522.05,222.70L519.75,220.40ZM525.51,225.70L527.81,228.00L525.51,230.30L523.21,228.00ZM528.96,229.30L531.26,231.60L528.96,233.90L526.66,231.60ZM532.42,241.00L534.72,243.30L532.42,245.60L530.12,243.30ZM535.87,231.70L538.17,234.00L535.87,236.30L533.57,234.00ZM539.33,205.30L541.63,207.60L539.33,209.90L537.03,207.60ZM542.78,253.70L545.08,256.00L542.78,258.30L540.48,256.00ZM546.23,226.10L548.53,228.40L546.23,230.70L543.93,228.40ZM549.69,231.90L551.99,234.20L549.69,236.50L547.39,234.20ZM553.14,251.30L555.44,253.60L553.14,255.90L550.84,253.60ZM556.60,254.70L558.90,257.00L556.60,259.30L554.30,257.00ZM560.05,246.10L562.35,248.40L560.05,250.70L557.75,248.40ZM563.51,238.70L565.81,241.00L563.51,243.30L561.21,241.00ZM566.96,257.10L569.26,259.40L566.96,261.70L564.66,259.40ZM570.41,242.10L572.71,244.40L570.41,246.70L568.11,244.40ZM573.87,228.10L576.17,230.40L573.87,232.70L571.57,230.40ZM577.32,253.70L579.62,256.00L577.32,258.30L575.02,256.00ZM580.78,236.90L583.08,239.20L580.78,241.50L578.48,239.20ZM584.23,244.70L586.53,247.00L584.23,249.30L581.93,247.00ZM587.69,250.10L589.99,252.40L587.69,254.70L585.39,252.40ZM591.14,277.70L593.44,280.00L591.14,282.30L588.84,280.00ZM594.59,226.70L596.89,229.00L594.59,231.30L592.29,229.00ZM598.05,257.70L600.35,260.00L598.05,262.30L595.75,260.00ZM601.50,260.70L603.80,263.00L601.50,265.30L599.20,263.00ZM604.96,253.30L607.26,255.60L604.96,257.90L602.66,255.60ZM608.41,233.10L610.71,235.40L608.41,237.70L606.11,235.40ZM611.87,260.10L614.17,262.40L611.87,264.70L609.57,262.40ZM615.32,251.30L617.62,253.60L615.32,255.90L613.02,253.60ZM618.77,243.30L621.07,245.60L618.77,247.90L616.47,245.60ZM622.23,256.10L624.53,258.40L622.23,260.70L619.93,258.40ZM625.68,267.70L627.98,270.00L625.68,272.30L623.38,270.00ZM629.14,255.70L631.44,258.00L629.14,260.30L626.84,258.00ZM632.59,270.10L634.89,272.40L632.59,274.70L630.29,272.40ZM636.05,258.20L638.35,260.50L636.05,262.80L633.75,260.50ZM639.50,251.70L641.80,254.00L639.50,256.30L637.20,254.00Z" fill="#ff0a0a" stroke="none"/>
<polyline points="397.70,267.71 399.21,267.70 400.72,267.69 402.23,267.70 403.75,267.71 405.26,267.73 406.77,267.76 408.28,267.79 409.79,267.82 411.30,267.86 412.81,267.89 414.32,267.93 415.83,267.97 417.35,268.01 418.86,268.05 420.37,268.08 421.88,268.11 423.39,268.13 424.90,268.15 426.41,268.16 427.93,268.15 429.44,268.13 430.95,268.10 432.46,268.06 433.97,267.99 435.48,267.91 436.99,267.80 438.50,267.67 440.01,267.51 441.53,267.32 443.04,267.10 444.55,266.85 446.06,266.56 447.57,266.23 449.08,265.86 450.59,265.45 452.11,265.00 453.62,264.50 455.13,263.95 456.64,263.35 458.15,262.71 459.66,262.02 461.17,261.29 462.68,260.52 464.19,259.71 465.71,258.87 467.22,257.99 468.73,257.08 470.24,256.15 471.75,255.19 473.26,254.22 474.77,253.23 476.28,252.22 477.80,251.21 479.31,250.20 480.82,249.19 482.33,248.18 483.84,247.18 485.35,246.19 486.86,245.22 488.38,244.27 489.89,243.33 491.40,242.41 492.91,241.52 494.42,240.65 495.93,239.81 497.44,239.00 498.95,238.22 500.46,237.47 501.98,236.75 503.49,236.06 505.00,235.41 506.51,234.80 508.02,234.22 509.53,233.69 511.04,233.21 512.55,232.78 514.07,232.39 515.58,232.05 517.09,231.75 518.60,231.51 520.11,231.32 521.62,231.17 523.13,231.08 524.64,231.03 526.16,231.03 527.67,231.07 529.18,231.16 530.69,231.30 532.20,231.47 533.71,231.69 535.22,231.95 536.74,232.25 538.25,232.58 539.76,232.95 541.27,233.34 542.78,233.77 544.29,234.21 545.80,234.67 547.31,235.16 548.83,235.65 550.34,236.16 551.85,236.67 553.36,237.20 554.87,237.72 556.38,238.25 557.89,238.78 559.40,239.30 560.91,239.82 562.43,240.33 563.94,240.84 565.45,241.33 566.96,241.82 568.47,242.29 569.98,242.75 571.49,243.20 573.00,243.64 574.52,244.06 576.03,244.48 577.54,244.88 579.05,245.28 580.56,245.66 582.07,246.03 583.58,246.39 585.10,246.75 586.61,247.09 588.12,247.43 589.63,247.75 591.14,248.07 592.65,248.38 594.16,248.68 595.67,248.98 597.18,249.26 598.70,249.54 600.21,249.82 601.72,250.09 603.23,250.36 604.74,250.62 606.25,250.87 607.76,251.13 609.27,251.38 610.79,251.63 612.30,251.87 613.81,252.11 615.32,252.36 616.83,252.60 618.34,252.84 619.85,253.08 621.37,253.32 622.88,253.56 624.39,253.80 625.90,254.05 627.41,254.30 628.92,254.55 630.43,254.80 631.94,255.06 633.45,255.32 634.97,255.58 636.48,255.85 637.99,256.13 639.50,256.41" fill="none" stroke="#e81c1c" stroke-width="1.45" stroke-linejoin="round"/>
<polyline points="397.70,273.96 399.21,273.91 400.72,273.86 402.23,273.83 403.75,273.81 405.26,273.80 406.77,273.79 408.28,273.79 409.79,273.80 411.30,273.82 412.81,273.84 414.32,273.87 415.83,273.89 417.35,273.92 418.86,273.96 420.37,273.99 421.88,274.02 423.39,274.05 424.90,274.07 426.41,274.09 427.93,274.11 429.44,274.11 430.95,274.11 432.46,274.09 433.97,274.06 435.48,274.01 436.99,273.94 438.50,273.84 440.01,273.72 441.53,273.56 443.04,273.37 444.55,273.14 446.06,272.87 447.57,272.55 449.08,272.19 450.59,271.77 452.11,271.30 453.62,270.78 455.13,270.19 456.64,269.54 458.15,268.85 459.66,268.10 461.17,267.32 462.68,266.50 464.19,265.65 465.71,264.78 467.22,263.90 468.73,263.02 470.24,262.13 471.75,261.24 473.26,260.35 474.77,259.45 476.28,258.55 477.80,257.63 479.31,256.69 480.82,255.74 482.33,254.77 483.84,253.79 485.35,252.79 486.86,251.78 488.38,250.78 489.89,249.77 491.40,248.77 492.91,247.79 494.42,246.82 495.93,245.87 497.44,244.94 498.95,244.04 500.46,243.18 501.98,242.36 503.49,241.57 505.00,240.83 506.51,240.13 508.02,239.49 509.53,238.89 511.04,238.35 512.55,237.86 514.07,237.43 515.58,237.05 517.09,236.72 518.60,236.45 520.11,236.23 521.62,236.06 523.13,235.94 524.64,235.88 526.16,235.86 527.67,235.89 529.18,235.96 530.69,236.08 532.20,236.23 533.71,236.43 535.22,236.66 536.74,236.92 538.25,237.21 539.76,237.53 541.27,237.88 542.78,238.24 544.29,238.63 545.80,239.04 547.31,239.47 548.83,239.91 550.34,240.36 551.85,240.82 553.36,241.29 554.87,241.77 556.38,242.25 557.89,242.74 559.40,243.23 560.91,243.72 562.43,244.22 563.94,244.71 565.45,245.20 566.96,245.69 568.47,246.18 569.98,246.66 571.49,247.14 573.00,247.62 574.52,248.09 576.03,248.55 577.54,249.01 579.05,249.46 580.56,249.91 582.07,250.35 583.58,250.78 585.10,251.21 586.61,251.63 588.12,252.04 589.63,252.44 591.14,252.84 592.65,253.23 594.16,253.61 595.67,253.98 597.18,254.35 598.70,254.70 600.21,255.05 601.72,255.40 603.23,255.73 604.74,256.06 606.25,256.38 607.76,256.69 609.27,257.00 610.79,257.29 612.30,257.58 613.81,257.86 615.32,258.14 616.83,258.40 618.34,258.66 619.85,258.91 621.37,259.16 622.88,259.39 624.39,259.62 625.90,259.84 627.41,260.05 628.92,260.26 630.43,260.46 631.94,260.65 633.45,260.83 634.97,261.00 636.48,261.17 637.99,261.33 639.50,261.48" fill="none" stroke="#2020e0" stroke-width="1.45" stroke-linejoin="round"/>
<text transform="translate(390.2,301.0) scale(1,1.1)" font-size="13" text-anchor="end" >-2</text>
<text transform="translate(390.2,272.25) scale(1,1.1)" font-size="13" text-anchor="end" >0</text>
<text transform="translate(390.2,243.5) scale(1,1.1)" font-size="13" text-anchor="end" >2</text>
<text transform="translate(390.2,214.75) scale(1,1.1)" font-size="13" text-anchor="end" >4</text>
<text transform="translate(390.2,186.0) scale(1,1.1)" font-size="13" text-anchor="end" >6</text>
<text transform="translate(651.8,278.0) scale(1,1.1)" font-size="13" text-anchor="start" >0</text>
<text transform="translate(651.8,232.0) scale(1,1.1)" font-size="13" text-anchor="start" >2</text>
<text transform="translate(651.8,186.0) scale(1,1.1)" font-size="13" text-anchor="start" >4</text>
<text transform="translate(398.10,317.0) scale(1,1.1)" font-size="13" text-anchor="middle" >-20</text>
<text transform="translate(432.64,317.0) scale(1,1.1)" font-size="13" text-anchor="middle" >-10</text>
<text transform="translate(467.19,317.0) scale(1,1.1)" font-size="13" text-anchor="middle" >0</text>
<text transform="translate(501.73,317.0) scale(1,1.1)" font-size="13" text-anchor="middle" >10</text>
<text transform="translate(536.27,317.0) scale(1,1.1)" font-size="13" text-anchor="middle" >20</text>
<text transform="translate(570.81,317.0) scale(1,1.1)" font-size="13" text-anchor="middle" >30</text>
<text transform="translate(605.36,317.0) scale(1,1.1)" font-size="13" text-anchor="middle" >40</text>
<text transform="translate(639.90,317.0) scale(1,1.1)" font-size="13" text-anchor="middle" >50</text>
<text x="353.3" y="169.0" font-size="13.5" text-anchor="start" >(d)</text>
<text x="519.1" y="332" font-size="13.5" text-anchor="middle">Delay &#1090;<tspan font-size="9.6" dy="3" dx="-0.5">NIR-DAPs</tspan><tspan dy="-3"> (fs)</tspan></text>
<text transform="translate(372.3,240.2) rotate(-90)" font-size="14" text-anchor="middle">&#916;k (&#215;10<tspan font-size="10" dy="-9.2">-6</tspan><tspan dy="9.2">)</tspan></text>
<text transform="translate(665.0,238.4) rotate(90)" font-size="14" text-anchor="middle">&#916;n (&#215;10<tspan font-size="10" dy="-9.2">-5</tspan><tspan dy="9.2">)</tspan></text>
<rect x="554.7" y="281.1" width="82" height="13" fill="#fff" stroke="none"/>
<text x="635.7" y="291.90000000000003" font-size="10.8" text-anchor="end">&#1090; = 25.7 &#177; 4.7 fs</text>
</svg>
</body></html>
